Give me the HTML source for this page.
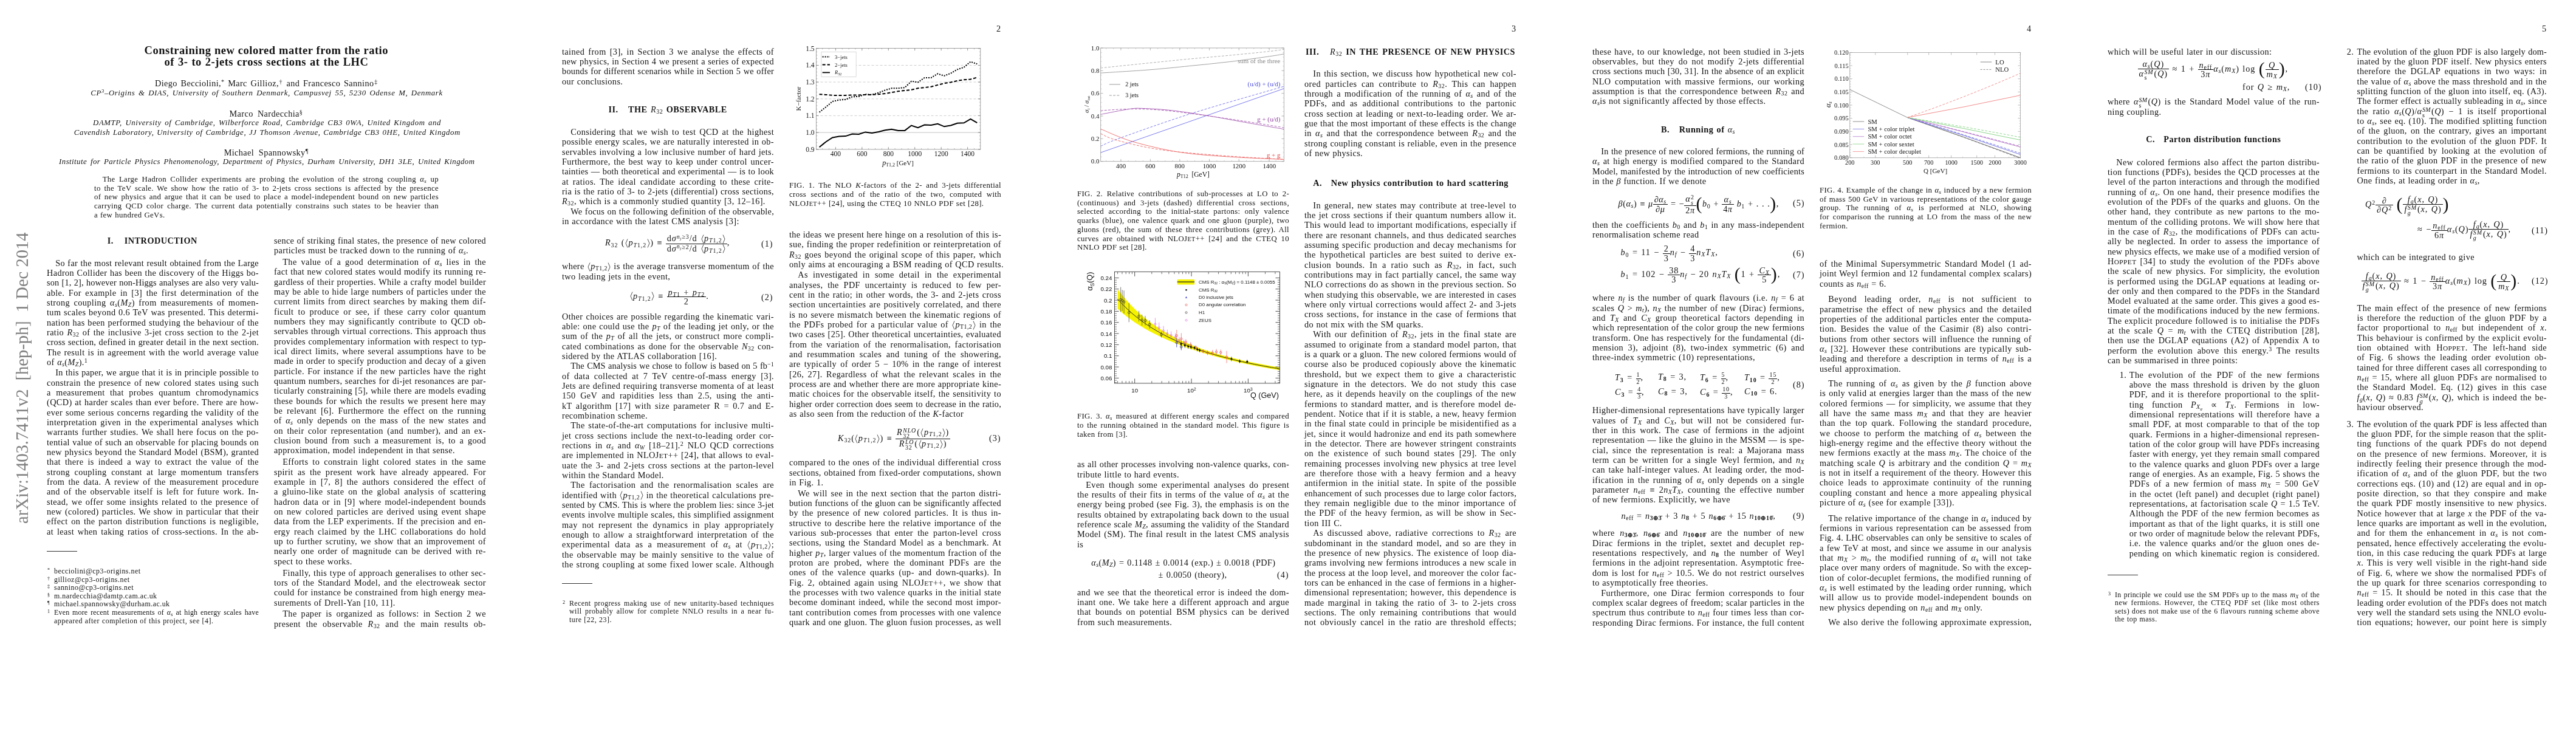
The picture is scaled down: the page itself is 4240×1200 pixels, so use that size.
<!DOCTYPE html>
<html><head><meta charset="utf-8"><style>
html,body{margin:0;padding:0;background:#fff;}
body{width:4240px;height:1200px;position:relative;overflow:hidden;font-family:"Liberation Serif",serif;color:#111;}
.page{position:absolute;top:0;width:848px;height:1200px;overflow:hidden;will-change:transform;}
.col{position:absolute;top:0;height:1200px;}
.b{--ls:0.4px;position:absolute;left:0;right:0;white-space:nowrap;font-size:14.25px;line-height:16.33px;letter-spacing:var(--ls);word-spacing:0.5px;text-align:left;}
.b.j{white-space:nowrap;text-align:justify;text-align-last:justify;}
.f{--ls:0.35px;position:absolute;left:0;right:0;white-space:nowrap;font-size:12.8px;line-height:14.75px;letter-spacing:var(--ls);word-spacing:0.4px;text-align:left;}
.f.j{white-space:nowrap;text-align:justify;text-align-last:justify;}
sub,sup{font-size:70%;line-height:0;}
sub{vertical-align:-0.25em;}
sup{vertical-align:0.45em;}
.sc{font-size:100%;}
.scs{font-size:80%;}
.abs{position:absolute;white-space:nowrap;}
.ctr{position:absolute;white-space:nowrap;text-align:center;}
.ttl{font-weight:bold;font-size:18.5px;line-height:19.2px;letter-spacing:0.55px;}
.au{font-size:14.25px;line-height:16px;letter-spacing:0.4px;word-spacing:1px;}
.af{font-size:12.8px;line-height:15.1px;font-style:italic;letter-spacing:0.68px;word-spacing:1px;}
.af i{font-style:italic;}
.sec{font-weight:bold;font-size:14.25px;letter-spacing:0.9px;line-height:16px;}
.stamp{font-size:28.5px;color:#808080;transform-origin:0 0;transform:translate(23px,862px) rotate(-90deg);line-height:28.5px;}
.fn{--ls:0.5px;position:absolute;left:0;right:0;white-space:nowrap;font-size:11.9px;line-height:13.6px;letter-spacing:var(--ls);word-spacing:0.4px;}
.fn.j{white-space:nowrap;text-align:justify;text-align-last:justify;}
.eq{font-size:14.25px;line-height:16px;letter-spacing:0.9px;word-spacing:1px;}
.fr{display:inline-block;vertical-align:middle;text-align:center;}
.fr>span{display:block;line-height:14.5px;padding:0 2px;}
.fr>span:first-child{border-bottom:0.7px solid #111;}
.seci{font-weight:bold;font-size:14.25px;letter-spacing:0.4px;line-height:16px;}
.pn{font-size:14.25px;line-height:16px;}
.ang{display:inline-block;vertical-align:-3.5px;margin:0 0.5px;}
.big{font-size:150%;vertical-align:-3px;line-height:10px;font-weight:100;}
.frs{display:inline-block;vertical-align:middle;text-align:center;font-size:10px;}
.frs>span{display:block;line-height:10.5px;padding:0 1px;}
.frs>span:first-child{border-bottom:0.6px solid #111;}
.ss{display:inline-block;vertical-align:-5px;font-size:70%;line-height:9px;text-align:left;margin:0 1px 0 0.5px;}
.ss>span{display:block;}
.big{font-size:210% !important;vertical-align:-5px !important;line-height:10px !important;}
.seci{letter-spacing:0.8px;}
.fm{position:absolute;left:-11px;top:0px;font-size:8px;line-height:10px;letter-spacing:0;}
.hj{white-space:nowrap !important;text-align:justify;text-align-last:justify;letter-spacing:0.2px;}
.af.hj{letter-spacing:0.6px;}
.ttl.hj{letter-spacing:0.5px;}
.au.hj{letter-spacing:0.4px;}

</style></head><body>
<div class="page" style="left:0px">
<div class="abs ttl hj" style="left:237.6px;width:401.4px;top:73.6px">Constraining new colored matter from the ratio</div>
<div class="abs ttl hj" style="left:270.5px;width:335.8px;top:92.8px">of 3- to 2-jets cross sections at the LHC</div>
<div class="abs au hj" style="left:255px;width:366.7px;top:129.4px">Diego Becciolini,<sup>*</sup> Marc Gillioz,<sup>†</sup> and Francesco Sannino<sup>‡</sup></div>
<div class="abs af hj" style="left:149.3px;width:579.4px;top:146px"><i>CP</i><sup>3</sup>–Origins &amp; DIAS, University of Southern Denmark, Campusvej 55, 5230 Odense M, Denmark</div>
<div class="abs au hj" style="left:377.5px;width:120.7px;top:178.7px">Marco Nardecchia<sup>§</sup></div>
<div class="abs af hj" style="left:153.1px;width:572.9px;top:195.4px">DAMTP, University of Cambridge, Wilberforce Road, Cambridge CB3 0WA, United Kingdom and</div>
<div class="abs af hj" style="left:121.8px;width:636px;top:210.5px">Cavendish Laboratory, University of Cambridge, JJ Thomson Avenue, Cambridge CB3 0HE, United Kingdom</div>
<div class="abs au hj" style="left:368.7px;width:138.9px;top:243.1px">Michael Spannowsky<sup>¶</sup></div>
<div class="abs af hj" style="left:97.1px;width:684.3px;top:258.9px;letter-spacing:0.45px">Institute for Particle Physics Phenomenology, Department of Physics, Durham University, DH1 3LE, United Kingdom</div>
<div class="abs sec hj" style="left:176.7px;width:148.1px;top:388.1px;letter-spacing:0.5px">I.&nbsp;&nbsp;&nbsp;INTRODUCTION</div>
<div class="abs stamp" style="left:0;top:0">arXiv:1403.7411v2&nbsp;&nbsp;[hep-ph]&nbsp;&nbsp;1 Dec 2014</div>
<div class="abs" style="left:77px;top:907px;width:50px;border-top:0.8px solid #333"></div>
<div class="col" style="left:155px;width:567px"><div class="f j" style="top:287.7px;text-indent:13.7px">The Large Hadron Collider experiments are probing the evolution of the strong coupling <i>α<sub>s</sub></i> up</div><div class="f j" style="top:302.5px">to the TeV scale. We show how the ratio of 3- to 2-jets cross sections is affected by the presence</div><div class="f j" style="top:317.2px">of new physics and argue that it can be used to place a model-independent bound on new particles</div><div class="f j" style="top:332.0px">carrying QCD color charge. The current data potentially constrains such states to be heavier than</div><div class="f" style="top:346.7px">a few hundred GeVs.</div></div><div class="col" style="left:77px;width:349px"><div class="b j" style="top:424.5px;text-indent:14.25px;letter-spacing:calc(var(--ls) + -0.1px)">So far the most relevant result obtained from the Large</div><div class="b j" style="top:440.8px;letter-spacing:calc(var(--ls) + -0.019px)">Hadron Collider has been the discovery of the Higgs bo-</div><div class="b j" style="top:457.2px;letter-spacing:calc(var(--ls) + -0.256px)">son [1, 2], however non-Higgs analyses are also very valu-</div><div class="b j" style="top:473.5px">able.  For example in [3] the first determination of the</div><div class="b j" style="top:489.8px">strong coupling <i>α<sub>s</sub></i>(<i>M<sub>Z</sub></i>) from measurements of momen-</div><div class="b j" style="top:506.1px">tum scales beyond 0.6 TeV was presented. This determi-</div><div class="b j" style="top:522.5px">nation has been performed studying the behaviour of the</div><div class="b j" style="top:538.8px">ratio <i>R</i><sub>32</sub> of the inclusive 3-jet cross section to the 2-jet</div><div class="b j" style="top:555.1px;letter-spacing:calc(var(--ls) + -0.134px)">cross section, defined in greater detail in the next section.</div><div class="b j" style="top:571.5px">The result is in agreement with the world average value</div><div class="b" style="top:587.8px">of <i>α<sub>s</sub></i>(<i>M<sub>Z</sub></i>).<sup>1</sup></div><div class="b j" style="top:605.2px;text-indent:14.25px;letter-spacing:calc(var(--ls) + -0.135px)">In this paper, we argue that it is in principle possible to</div><div class="b j" style="top:621.6px">constrain the presence of new colored states using such</div><div class="b j" style="top:637.9px">a measurement that probes quantum chromodynamics</div><div class="b j" style="top:654.2px">(QCD) at harder scales than ever before. There are how-</div><div class="b j" style="top:670.6px">ever some serious concerns regarding the validity of the</div><div class="b j" style="top:686.9px">interpretation given in the experimental analyses which</div><div class="b j" style="top:703.2px">warrants further studies. We shall here focus on the po-</div><div class="b j" style="top:719.5px;letter-spacing:calc(var(--ls) + -0.087px)">tential value of such an observable for placing bounds on</div><div class="b j" style="top:735.9px;letter-spacing:calc(var(--ls) + -0.016px)">new physics beyond the Standard Model (BSM), granted</div><div class="b j" style="top:752.2px">that there is indeed a way to extract the value of the</div><div class="b j" style="top:768.5px">strong coupling constant at large momentum transfers</div><div class="b j" style="top:784.9px">from the data. A review of the measurement procedure</div><div class="b j" style="top:801.2px">and of the observable itself is left for future work. In-</div><div class="b j" style="top:817.5px">stead, we offer some insights related to the presence of</div><div class="b j" style="top:833.9px">new (colored) particles. We show in particular that their</div><div class="b j" style="top:850.2px">effect on the parton distribution functions is negligible,</div><div class="b j" style="top:866.5px">at least when taking ratios of cross-sections. In the ab-</div></div><div class="col" style="left:451px;width:349px"><div class="b j" style="top:387.8px;letter-spacing:calc(var(--ls) + -0.104px)">sence of striking final states, the presence of new colored</div><div class="b" style="top:404.1px">particles must be tracked down to the running of <i>α<sub>s</sub></i>.</div><div class="b j" style="top:423.1px;text-indent:14.25px">The value of a good determination of <i>α<sub>s</sub></i> lies in the</div><div class="b j" style="top:439.4px;letter-spacing:calc(var(--ls) + -0.046px)">fact that new colored states would modify its running re-</div><div class="b j" style="top:455.7px;letter-spacing:calc(var(--ls) + -0.052px)">gardless of their properties. While a crafty model builder</div><div class="b j" style="top:472.0px">may be able to hide large numbers of particles under the</div><div class="b j" style="top:488.4px">current limits from direct searches by making them dif-</div><div class="b j" style="top:504.7px">ficult to produce or see, if these carry color quantum</div><div class="b j" style="top:521.0px">numbers they may significantly contribute to QCD ob-</div><div class="b j" style="top:537.4px;letter-spacing:calc(var(--ls) + -0.029px)">servables through virtual corrections. This approach thus</div><div class="b j" style="top:553.7px;letter-spacing:calc(var(--ls) + -0.056px)">provides complementary information with respect to typ-</div><div class="b j" style="top:570.0px">ical direct limits, where several assumptions have to be</div><div class="b j" style="top:586.4px;letter-spacing:calc(var(--ls) + -0.083px)">made in order to specify production and decay of a given</div><div class="b j" style="top:602.7px">particle. For instance if the new particles have the right</div><div class="b j" style="top:619.0px;letter-spacing:calc(var(--ls) + -0.051px)">quantum numbers, searches for di-jet resonances are par-</div><div class="b j" style="top:635.4px;letter-spacing:calc(var(--ls) + -0.096px)">ticularly constraining [5], while there are models evading</div><div class="b j" style="top:651.7px">these bounds for which the results we present here may</div><div class="b j" style="top:668.0px">be relevant [6]. Furthermore the effect on the running</div><div class="b j" style="top:684.3px">of <i>α<sub>s</sub></i> only depends on the mass of the new states and</div><div class="b j" style="top:700.7px">on their color representation (and number), and an ex-</div><div class="b j" style="top:717.0px">clusion bound from such a measurement is, to a good</div><div class="b" style="top:733.3px">approximation, model independent in that sense.</div><div class="b j" style="top:752.3px;text-indent:14.25px">Efforts to constrain light colored states in the same</div><div class="b j" style="top:768.6px">spirit as the present work have already appeared. For</div><div class="b j" style="top:784.9px">example in [7, 8] the authors considered the effect of</div><div class="b j" style="top:801.3px">a gluino-like state on the global analysis of scattering</div><div class="b j" style="top:817.6px">hadron data or in [9] where model-independent bounds</div><div class="b j" style="top:833.9px">on new colored particles are derived using event shape</div><div class="b j" style="top:850.2px">data from the LEP experiments. If the precision and en-</div><div class="b j" style="top:866.6px">ergy reach claimed by the LHC collaborations do hold</div><div class="b j" style="top:882.9px">up to further scrutiny, we show that an improvement of</div><div class="b j" style="top:899.2px">nearly one order of magnitude can be derived with re-</div><div class="b" style="top:915.6px">spect to these works.</div><div class="b j" style="top:934.5px;text-indent:14.25px">Finally, this type of approach generalises to other sec-</div><div class="b j" style="top:950.8px">tors of the Standard Model, and the electroweak sector</div><div class="b j" style="top:967.2px;letter-spacing:calc(var(--ls) + -0.011px)">could for instance be constrained from high energy mea-</div><div class="b" style="top:983.5px">surements of Drell-Yan [10, 11].</div><div class="b j" style="top:1002.4px;text-indent:14.25px">The paper is organized as follows: in Section 2 we</div><div class="b j" style="top:1018.7px">present the observable <i>R</i><sub>32</sub> and the main results ob-</div></div><div class="col" style="left:89px;width:337px"><div class="fn" style="top:934.0px"><span class="fm">*</span>becciolini@cp3-origins.net</div><div class="fn" style="top:947.6px"><span class="fm">†</span>gillioz@cp3-origins.net</div><div class="fn" style="top:961.2px"><span class="fm">‡</span>sannino@cp3-origins.net</div><div class="fn" style="top:974.8px"><span class="fm">§</span>m.nardecchia@damtp.cam.ac.uk</div><div class="fn" style="top:988.4px"><span class="fm">¶</span>michael.spannowsky@durham.ac.uk</div><div class="fn j" style="top:1002.0px;letter-spacing:calc(var(--ls) + -0.283px)"><span class="fm">1</span>Even more recent measurements of <i>α<sub>s</sub></i> at high energy scales have</div><div class="fn" style="top:1015.6px">appeared after completion of this project, see [4].</div></div></div><div class="page" style="left:848px">
<div class="abs eq" style="left:148px;top:385.2px">
<i>R</i><sub>32</sub> (<svg class="ang" width="5" height="15" viewBox="0 0 5 15"><path d="M4,0.5 L1,7.5 L4,14.5" fill="none" stroke="#222" stroke-width="0.8"/></svg><i>p</i><sub><i>T</i>1,2</sub><svg class="ang" width="5" height="15" viewBox="0 0 5 15"><path d="M1,0.5 L4,7.5 L1,14.5" fill="none" stroke="#222" stroke-width="0.8"/></svg>) ≡ <span class="fr"><span>d<i>σ</i><sup><i>n<sub>j</sub></i>≥3</sup>/d <svg class="ang" width="5" height="15" viewBox="0 0 5 15"><path d="M4,0.5 L1,7.5 L4,14.5" fill="none" stroke="#222" stroke-width="0.8"/></svg><i>p</i><sub><i>T</i>1,2</sub><svg class="ang" width="5" height="15" viewBox="0 0 5 15"><path d="M1,0.5 L4,7.5 L1,14.5" fill="none" stroke="#222" stroke-width="0.8"/></svg></span><span>d<i>σ</i><sup><i>n<sub>j</sub></i>≥2</sup>/d <svg class="ang" width="5" height="15" viewBox="0 0 5 15"><path d="M4,0.5 L1,7.5 L4,14.5" fill="none" stroke="#222" stroke-width="0.8"/></svg><i>p</i><sub><i>T</i>1,2</sub><svg class="ang" width="5" height="15" viewBox="0 0 5 15"><path d="M1,0.5 L4,7.5 L1,14.5" fill="none" stroke="#222" stroke-width="0.8"/></svg></span></span>,</div>
<div class="abs eq" style="left:405px;top:393.3px">(1)</div>
<div class="abs eq" style="left:188px;top:473.6px"><svg class="ang" width="5" height="15" viewBox="0 0 5 15"><path d="M4,0.5 L1,7.5 L4,14.5" fill="none" stroke="#222" stroke-width="0.8"/></svg><i>p</i><sub><i>T</i>1,2</sub><svg class="ang" width="5" height="15" viewBox="0 0 5 15"><path d="M1,0.5 L4,7.5 L1,14.5" fill="none" stroke="#222" stroke-width="0.8"/></svg> ≡ <span class="fr"><span><i>p</i><sub><i>T</i>1</sub> + <i>p</i><sub><i>T</i>2</sub></span><span>2</span></span>.</div>
<div class="abs eq" style="left:405px;top:480.7px">(2)</div>
<div class="abs seci hj" style="left:153.5px;width:195.3px;top:171.7px;letter-spacing:0.5px">II.&nbsp;&nbsp;&nbsp;THE <span style="font-weight:normal"><i>R</i><sub>32</sub></span> OBSERVABLE</div>
<div class="abs" style="left:77px;top:960px;width:50px;border-top:0.8px solid #333"></div>
<div class="abs pn" style="left:792px;top:39px">2</div>
<div class="abs eq" style="left:531px;top:704.4px"><i>K</i><sub>32</sub>(<svg class="ang" width="5" height="15" viewBox="0 0 5 15"><path d="M4,0.5 L1,7.5 L4,14.5" fill="none" stroke="#222" stroke-width="0.8"/></svg><i>p</i><sub><i>T</i>1,2</sub><svg class="ang" width="5" height="15" viewBox="0 0 5 15"><path d="M1,0.5 L4,7.5 L1,14.5" fill="none" stroke="#222" stroke-width="0.8"/></svg>) ≡ <span class="fr"><span><i>R</i><span class="ss"><span><i>NLO</i></span><span>32</span></span>(<svg class="ang" width="5" height="15" viewBox="0 0 5 15"><path d="M4,0.5 L1,7.5 L4,14.5" fill="none" stroke="#222" stroke-width="0.8"/></svg><i>p</i><sub><i>T</i>1,2</sub><svg class="ang" width="5" height="15" viewBox="0 0 5 15"><path d="M1,0.5 L4,7.5 L1,14.5" fill="none" stroke="#222" stroke-width="0.8"/></svg>)</span><span><i>R</i><span class="ss"><span><i>LO</i></span><span>32</span></span>(<svg class="ang" width="5" height="15" viewBox="0 0 5 15"><path d="M4,0.5 L1,7.5 L4,14.5" fill="none" stroke="#222" stroke-width="0.8"/></svg><i>p</i><sub><i>T</i>1,2</sub><svg class="ang" width="5" height="15" viewBox="0 0 5 15"><path d="M1,0.5 L4,7.5 L1,14.5" fill="none" stroke="#222" stroke-width="0.8"/></svg>)</span></span></div>
<div class="abs eq" style="left:780px;top:712.5px">(3)</div>
<div class="col" style="left:77px;width:349px"><div class="b j" style="top:76.5px">tained from [3], in Section 3 we analyse the effects of</div><div class="b j" style="top:92.8px;letter-spacing:calc(var(--ls) + -0.096px)">new physics, in Section 4 we present a series of expected</div><div class="b j" style="top:109.2px;letter-spacing:calc(var(--ls) + -0.138px)">bounds for different scenarios while in Section 5 we offer</div><div class="b" style="top:125.5px">our conclusions.</div><div class="b j" style="top:208.9px;text-indent:14.25px">Considering that we wish to test QCD at the highest</div><div class="b j" style="top:225.2px;letter-spacing:calc(var(--ls) + -0.011px)">possible energy scales, we are naturally interested in ob-</div><div class="b j" style="top:241.6px">servables involving a low inclusive number of hard jets.</div><div class="b j" style="top:257.9px">Furthermore, the best way to keep under control uncer-</div><div class="b j" style="top:274.2px;letter-spacing:calc(var(--ls) + -0.129px)">tainties — both theoretical and experimental — is to look</div><div class="b j" style="top:290.5px">at ratios. The ideal candidate according to these crite-</div><div class="b j" style="top:306.9px;letter-spacing:calc(var(--ls) + -0.058px)">ria is the ratio of 3- to 2-jets (differential) cross sections,</div><div class="b" style="top:323.2px"><i>R</i><sub>32</sub>, which is a commonly studied quantity [3, 12–16].</div><div class="b j" style="top:339.5px;text-indent:14.25px;letter-spacing:calc(var(--ls) + -0.133px)">We focus on the following definition of the observable,</div><div class="b" style="top:355.9px">in accordance with the latest CMS analysis [3]:</div><div class="b j" style="top:430.2px;letter-spacing:calc(var(--ls) + -0.026px)">where <svg class="ang" width="5" height="15" viewBox="0 0 5 15"><path d="M4,0.5 L1,7.5 L4,14.5" fill="none" stroke="#222" stroke-width="0.8"/></svg><i>p</i><sub>T1,2</sub><svg class="ang" width="5" height="15" viewBox="0 0 5 15"><path d="M1,0.5 L4,7.5 L1,14.5" fill="none" stroke="#222" stroke-width="0.8"/></svg> is the average transverse momentum of the</div><div class="b" style="top:446.5px">two leading jets in the event,</div><div class="b j" style="top:512.6px">Other choices are possible regarding the kinematic vari-</div><div class="b j" style="top:528.9px">able: one could use the <i>p<sub>T</sub></i> of the leading jet only, or the</div><div class="b j" style="top:545.3px">sum of the <i>p<sub>T</sub></i> of all the jets, or construct more compli-</div><div class="b j" style="top:561.6px">cated combinations as done for the observable <i>N</i><sub>32</sub> con-</div><div class="b" style="top:577.9px">sidered by the ATLAS collaboration [16].</div><div class="b j" style="top:594.3px;text-indent:14.25px;letter-spacing:calc(var(--ls) + -0.257px)">The CMS analysis we chose to follow is based on 5 fb<sup>−1</sup></div><div class="b j" style="top:610.6px">of data collected at 7 TeV centre-of-mass energy [3].</div><div class="b j" style="top:626.9px">Jets are defined requiring transverse momenta of at least</div><div class="b j" style="top:643.2px">150 GeV and rapidities less than 2.5, using the anti-</div><div class="b j" style="top:659.6px">kT algorithm [17] with size parameter R = 0.7 and E-</div><div class="b" style="top:675.9px">recombination scheme.</div><div class="b j" style="top:692.2px;text-indent:14.25px">The state-of-the-art computations for inclusive multi-</div><div class="b j" style="top:708.6px">jet cross sections include the next-to-leading order cor-</div><div class="b j" style="top:724.9px">rections in <i>α<sub>s</sub></i> and <i>α<sub>W</sub></i> [18–21].<sup>2</sup> NLO QCD corrections</div><div class="b j" style="top:741.2px">are implemented in NLO<span class="sc">J</span><span class="scs">ET</span>++ [24], that allows to eval-</div><div class="b j" style="top:757.6px">uate the 3- and 2-jets cross sections at the parton-level</div><div class="b" style="top:773.9px">within the Standard Model.</div><div class="b j" style="top:790.2px;text-indent:14.25px">The factorisation and the renormalisation scales are</div><div class="b j" style="top:806.5px;letter-spacing:calc(var(--ls) + -0.015px)">identified with <svg class="ang" width="5" height="15" viewBox="0 0 5 15"><path d="M4,0.5 L1,7.5 L4,14.5" fill="none" stroke="#222" stroke-width="0.8"/></svg><i>p</i><sub>T1,2</sub><svg class="ang" width="5" height="15" viewBox="0 0 5 15"><path d="M1,0.5 L4,7.5 L1,14.5" fill="none" stroke="#222" stroke-width="0.8"/></svg> in the theoretical calculations pre-</div><div class="b j" style="top:822.9px;letter-spacing:calc(var(--ls) + -0.234px)">sented by CMS. This is where the problem lies: since 3-jet</div><div class="b j" style="top:839.2px;letter-spacing:calc(var(--ls) + -0.109px)">events involve multiple scales, this simplified assignment</div><div class="b j" style="top:855.5px">may not represent the dynamics in play appropriately</div><div class="b j" style="top:871.9px">enough to allow a straightforward interpretation of the</div><div class="b j" style="top:888.2px">experimental data as a measurement of <i>α<sub>s</sub></i> at <svg class="ang" width="5" height="15" viewBox="0 0 5 15"><path d="M4,0.5 L1,7.5 L4,14.5" fill="none" stroke="#222" stroke-width="0.8"/></svg><i>p</i><sub>T1,2</sub><svg class="ang" width="5" height="15" viewBox="0 0 5 15"><path d="M1,0.5 L4,7.5 L1,14.5" fill="none" stroke="#222" stroke-width="0.8"/></svg>;</div><div class="b j" style="top:904.5px">the observable may be mainly sensitive to the value of</div><div class="b j" style="top:920.9px">the strong coupling at some fixed lower scale. Although</div></div><div class="col" style="left:89px;width:337px"><div class="fn j" style="top:987.0px;letter-spacing:calc(var(--ls) + -0.087px)"><span class="fm">2</span>Recent progress making use of new unitarity-based techniques</div><div class="fn j" style="top:1000.3px">will probably allow for complete NNLO results in a near fu-</div><div class="fn" style="top:1013.6px">ture [22, 23].</div></div><div class="col" style="left:451px;width:349px"><div class="b j" style="top:377.9px;letter-spacing:calc(var(--ls) + -0.088px)">the ideas we present here hinge on a resolution of this is-</div><div class="b j" style="top:394.2px">sue, finding the proper redefinition or reinterpretation of</div><div class="b j" style="top:410.6px"><i>R</i><sub>32</sub> goes beyond the original scope of this paper, which</div><div class="b" style="top:426.9px">only aims at encouraging a BSM reading of QCD results.</div><div class="b j" style="top:444.4px;text-indent:14.25px">As investigated in some detail in the experimental</div><div class="b j" style="top:460.7px">analyses, the PDF uncertainty is reduced to few per-</div><div class="b j" style="top:477.1px">cent in the ratio; in other words, the 3- and 2-jets cross</div><div class="b j" style="top:493.4px">section uncertainties are positively correlated, and there</div><div class="b j" style="top:509.7px">is no severe mismatch between the kinematic regions of</div><div class="b j" style="top:526.1px">the PDFs probed for a particular value of <svg class="ang" width="5" height="15" viewBox="0 0 5 15"><path d="M4,0.5 L1,7.5 L4,14.5" fill="none" stroke="#222" stroke-width="0.8"/></svg><i>p</i><sub>T1,2</sub><svg class="ang" width="5" height="15" viewBox="0 0 5 15"><path d="M1,0.5 L4,7.5 L1,14.5" fill="none" stroke="#222" stroke-width="0.8"/></svg> in the</div><div class="b j" style="top:542.4px;letter-spacing:calc(var(--ls) + -0.032px)">two cases [25]. Other theoretical uncertainties, evaluated</div><div class="b j" style="top:558.7px">from the variation of the renormalisation, factorisation</div><div class="b j" style="top:575.1px">and resummation scales and tuning of the showering,</div><div class="b j" style="top:591.4px">are typically of order 5 − 10% in the range of interest</div><div class="b j" style="top:607.7px">[26, 27]. Regardless of what the relevant scales in the</div><div class="b j" style="top:624.1px;letter-spacing:calc(var(--ls) + -0.051px)">process are and whether there are more appropriate kine-</div><div class="b j" style="top:640.4px">matic choices for the observable itself, the sensitivity to</div><div class="b j" style="top:656.7px;letter-spacing:calc(var(--ls) + -0.171px)">higher order correction does seem to decrease in the ratio,</div><div class="b" style="top:673.0px">as also seen from the reduction of the <i>K</i>-factor</div><div class="b j" style="top:753.3px">compared to the ones of the individual differential cross</div><div class="b j" style="top:769.6px;letter-spacing:calc(var(--ls) + -0.04px)">sections, obtained from fixed-order computations, shown</div><div class="b" style="top:786.0px">in Fig. 1.</div><div class="b j" style="top:803.5px;text-indent:14.25px">We will see in the next section that the parton distri-</div><div class="b j" style="top:819.8px;letter-spacing:calc(var(--ls) + -0.159px)">bution functions of the gluon can be significantly affected</div><div class="b j" style="top:836.2px">by the presence of new colored particles. It is thus in-</div><div class="b j" style="top:852.5px">structive to describe here the relative importance of the</div><div class="b j" style="top:868.8px">various sub-processes that enter the parton-level cross</div><div class="b j" style="top:885.1px">sections, using the Standard Model as a benchmark. At</div><div class="b j" style="top:901.5px;letter-spacing:calc(var(--ls) + -0.014px)">higher <i>p<sub>T</sub></i>, larger values of the momentum fraction of the</div><div class="b j" style="top:917.8px">proton are probed, where the dominant PDFs are the</div><div class="b j" style="top:934.1px">ones of the valence quarks (up- and down-quarks). In</div><div class="b j" style="top:950.5px">Fig. 2, obtained again using NLO<span class="sc">J</span><span class="scs">ET</span>++, we show that</div><div class="b j" style="top:966.8px">the processes with two valence quarks in the initial state</div><div class="b j" style="top:983.1px">become dominant indeed, while the second most impor-</div><div class="b j" style="top:999.5px;letter-spacing:calc(var(--ls) + -0.029px)">tant contribution comes from processes with one valence</div><div class="b j" style="top:1015.8px;letter-spacing:calc(var(--ls) + -0.092px)">quark and one gluon. The gluon fusion processes, as well</div></div><div class="col" style="left:451px;width:349px"><div class="f j" style="top:298.4px">FIG. 1. The NLO <i>K</i>-factors of the 2- and 3-jets differential</div><div class="f j" style="top:313.2px">cross sections and of the ratio of the two, computed with</div><div class="f" style="top:327.9px">NLO<span class="sc">J</span><span class="scs">ET</span>++ [24], using the CTEQ 10 NNLO PDF set [28].</div></div><svg class="abs" style="left:440px;top:60px" width="360" height="230" viewBox="0 0 360.00 230.00"><g font-family="Liberation Serif" fill="#111"><line x1="55.5" x2="325.79999999999995" y1="130.4" y2="130.4" stroke="#c8c8c8" stroke-width="0.9" stroke-dasharray="4,3"/><line x1="55.5" x2="325.79999999999995" y1="102.8" y2="102.8" stroke="#c8c8c8" stroke-width="0.9" stroke-dasharray="4,3"/><line x1="55.5" x2="325.79999999999995" y1="75.1" y2="75.1" stroke="#c8c8c8" stroke-width="0.9" stroke-dasharray="4,3"/><line x1="55.5" x2="325.79999999999995" y1="47.5" y2="47.5" stroke="#c8c8c8" stroke-width="0.9" stroke-dasharray="4,3"/><line x1="55.5" x2="325.79999999999995" y1="158.1" y2="158.1" stroke="#9a9a9a" stroke-width="0.6"/><rect x="55.5" y="19.400000000000006" width="270.3" height="166.5" fill="none" stroke="#8a8a8a" stroke-width="0.8"/><line x1="87.4" x2="87.4" y1="185.9" y2="181.9" stroke="#777" stroke-width="0.7"/><line x1="87.4" x2="87.4" y1="19.400000000000006" y2="23.400000000000006" stroke="#777" stroke-width="0.7"/><text x="87.4" y="197.0" font-size="11.5" text-anchor="middle">400</text><line x1="130.8" x2="130.8" y1="185.9" y2="181.9" stroke="#777" stroke-width="0.7"/><line x1="130.8" x2="130.8" y1="19.400000000000006" y2="23.400000000000006" stroke="#777" stroke-width="0.7"/><text x="130.8" y="197.0" font-size="11.5" text-anchor="middle">600</text><line x1="174.3" x2="174.3" y1="185.9" y2="181.9" stroke="#777" stroke-width="0.7"/><line x1="174.3" x2="174.3" y1="19.400000000000006" y2="23.400000000000006" stroke="#777" stroke-width="0.7"/><text x="174.3" y="197.0" font-size="11.5" text-anchor="middle">800</text><line x1="217.7" x2="217.7" y1="185.9" y2="181.9" stroke="#777" stroke-width="0.7"/><line x1="217.7" x2="217.7" y1="19.400000000000006" y2="23.400000000000006" stroke="#777" stroke-width="0.7"/><text x="217.7" y="197.0" font-size="11.5" text-anchor="middle">1000</text><line x1="261.2" x2="261.2" y1="185.9" y2="181.9" stroke="#777" stroke-width="0.7"/><line x1="261.2" x2="261.2" y1="19.400000000000006" y2="23.400000000000006" stroke="#777" stroke-width="0.7"/><text x="261.2" y="197.0" font-size="11.5" text-anchor="middle">1200</text><line x1="304.6" x2="304.6" y1="185.9" y2="181.9" stroke="#777" stroke-width="0.7"/><line x1="304.6" x2="304.6" y1="19.400000000000006" y2="23.400000000000006" stroke="#777" stroke-width="0.7"/><text x="304.6" y="197.0" font-size="11.5" text-anchor="middle">1400</text><line x1="65.7" x2="65.7" y1="185.9" y2="183.9" stroke="#888" stroke-width="0.6"/><line x1="65.7" x2="65.7" y1="19.400000000000006" y2="21.400000000000006" stroke="#888" stroke-width="0.6"/><line x1="76.5" x2="76.5" y1="185.9" y2="183.9" stroke="#888" stroke-width="0.6"/><line x1="76.5" x2="76.5" y1="19.400000000000006" y2="21.400000000000006" stroke="#888" stroke-width="0.6"/><line x1="87.4" x2="87.4" y1="185.9" y2="183.9" stroke="#888" stroke-width="0.6"/><line x1="87.4" x2="87.4" y1="19.400000000000006" y2="21.400000000000006" stroke="#888" stroke-width="0.6"/><line x1="98.3" x2="98.3" y1="185.9" y2="183.9" stroke="#888" stroke-width="0.6"/><line x1="98.3" x2="98.3" y1="19.400000000000006" y2="21.400000000000006" stroke="#888" stroke-width="0.6"/><line x1="109.1" x2="109.1" y1="185.9" y2="183.9" stroke="#888" stroke-width="0.6"/><line x1="109.1" x2="109.1" y1="19.400000000000006" y2="21.400000000000006" stroke="#888" stroke-width="0.6"/><line x1="120.0" x2="120.0" y1="185.9" y2="183.9" stroke="#888" stroke-width="0.6"/><line x1="120.0" x2="120.0" y1="19.400000000000006" y2="21.400000000000006" stroke="#888" stroke-width="0.6"/><line x1="130.8" x2="130.8" y1="185.9" y2="183.9" stroke="#888" stroke-width="0.6"/><line x1="130.8" x2="130.8" y1="19.400000000000006" y2="21.400000000000006" stroke="#888" stroke-width="0.6"/><line x1="141.7" x2="141.7" y1="185.9" y2="183.9" stroke="#888" stroke-width="0.6"/><line x1="141.7" x2="141.7" y1="19.400000000000006" y2="21.400000000000006" stroke="#888" stroke-width="0.6"/><line x1="152.6" x2="152.6" y1="185.9" y2="183.9" stroke="#888" stroke-width="0.6"/><line x1="152.6" x2="152.6" y1="19.400000000000006" y2="21.400000000000006" stroke="#888" stroke-width="0.6"/><line x1="163.4" x2="163.4" y1="185.9" y2="183.9" stroke="#888" stroke-width="0.6"/><line x1="163.4" x2="163.4" y1="19.400000000000006" y2="21.400000000000006" stroke="#888" stroke-width="0.6"/><line x1="174.3" x2="174.3" y1="185.9" y2="183.9" stroke="#888" stroke-width="0.6"/><line x1="174.3" x2="174.3" y1="19.400000000000006" y2="21.400000000000006" stroke="#888" stroke-width="0.6"/><line x1="185.1" x2="185.1" y1="185.9" y2="183.9" stroke="#888" stroke-width="0.6"/><line x1="185.1" x2="185.1" y1="19.400000000000006" y2="21.400000000000006" stroke="#888" stroke-width="0.6"/><line x1="196.0" x2="196.0" y1="185.9" y2="183.9" stroke="#888" stroke-width="0.6"/><line x1="196.0" x2="196.0" y1="19.400000000000006" y2="21.400000000000006" stroke="#888" stroke-width="0.6"/><line x1="206.9" x2="206.9" y1="185.9" y2="183.9" stroke="#888" stroke-width="0.6"/><line x1="206.9" x2="206.9" y1="19.400000000000006" y2="21.400000000000006" stroke="#888" stroke-width="0.6"/><line x1="217.7" x2="217.7" y1="185.9" y2="183.9" stroke="#888" stroke-width="0.6"/><line x1="217.7" x2="217.7" y1="19.400000000000006" y2="21.400000000000006" stroke="#888" stroke-width="0.6"/><line x1="228.6" x2="228.6" y1="185.9" y2="183.9" stroke="#888" stroke-width="0.6"/><line x1="228.6" x2="228.6" y1="19.400000000000006" y2="21.400000000000006" stroke="#888" stroke-width="0.6"/><line x1="239.4" x2="239.4" y1="185.9" y2="183.9" stroke="#888" stroke-width="0.6"/><line x1="239.4" x2="239.4" y1="19.400000000000006" y2="21.400000000000006" stroke="#888" stroke-width="0.6"/><line x1="250.3" x2="250.3" y1="185.9" y2="183.9" stroke="#888" stroke-width="0.6"/><line x1="250.3" x2="250.3" y1="19.400000000000006" y2="21.400000000000006" stroke="#888" stroke-width="0.6"/><line x1="261.2" x2="261.2" y1="185.9" y2="183.9" stroke="#888" stroke-width="0.6"/><line x1="261.2" x2="261.2" y1="19.400000000000006" y2="21.400000000000006" stroke="#888" stroke-width="0.6"/><line x1="272.0" x2="272.0" y1="185.9" y2="183.9" stroke="#888" stroke-width="0.6"/><line x1="272.0" x2="272.0" y1="19.400000000000006" y2="21.400000000000006" stroke="#888" stroke-width="0.6"/><line x1="282.9" x2="282.9" y1="185.9" y2="183.9" stroke="#888" stroke-width="0.6"/><line x1="282.9" x2="282.9" y1="19.400000000000006" y2="21.400000000000006" stroke="#888" stroke-width="0.6"/><line x1="293.7" x2="293.7" y1="185.9" y2="183.9" stroke="#888" stroke-width="0.6"/><line x1="293.7" x2="293.7" y1="19.400000000000006" y2="21.400000000000006" stroke="#888" stroke-width="0.6"/><line x1="304.6" x2="304.6" y1="185.9" y2="183.9" stroke="#888" stroke-width="0.6"/><line x1="304.6" x2="304.6" y1="19.400000000000006" y2="21.400000000000006" stroke="#888" stroke-width="0.6"/><line x1="315.5" x2="315.5" y1="185.9" y2="183.9" stroke="#888" stroke-width="0.6"/><line x1="315.5" x2="315.5" y1="19.400000000000006" y2="21.400000000000006" stroke="#888" stroke-width="0.6"/><text x="52.5" y="189.7" font-size="11.5" text-anchor="end">0.9</text><line x1="55.5" x2="59.5" y1="185.8" y2="185.8" stroke="#777" stroke-width="0.7"/><line x1="325.79999999999995" x2="321.79999999999995" y1="185.8" y2="185.8" stroke="#777" stroke-width="0.7"/><text x="52.5" y="162.0" font-size="11.5" text-anchor="end">1.0</text><line x1="55.5" x2="59.5" y1="158.1" y2="158.1" stroke="#777" stroke-width="0.7"/><line x1="325.79999999999995" x2="321.79999999999995" y1="158.1" y2="158.1" stroke="#777" stroke-width="0.7"/><text x="52.5" y="134.3" font-size="11.5" text-anchor="end">1.1</text><line x1="55.5" x2="59.5" y1="130.4" y2="130.4" stroke="#777" stroke-width="0.7"/><line x1="325.79999999999995" x2="321.79999999999995" y1="130.4" y2="130.4" stroke="#777" stroke-width="0.7"/><text x="52.5" y="106.7" font-size="11.5" text-anchor="end">1.2</text><line x1="55.5" x2="59.5" y1="102.8" y2="102.8" stroke="#777" stroke-width="0.7"/><line x1="325.79999999999995" x2="321.79999999999995" y1="102.8" y2="102.8" stroke="#777" stroke-width="0.7"/><text x="52.5" y="79.0" font-size="11.5" text-anchor="end">1.3</text><line x1="55.5" x2="59.5" y1="75.1" y2="75.1" stroke="#777" stroke-width="0.7"/><line x1="325.79999999999995" x2="321.79999999999995" y1="75.1" y2="75.1" stroke="#777" stroke-width="0.7"/><text x="52.5" y="51.4" font-size="11.5" text-anchor="end">1.4</text><line x1="55.5" x2="59.5" y1="47.5" y2="47.5" stroke="#777" stroke-width="0.7"/><line x1="325.79999999999995" x2="321.79999999999995" y1="47.5" y2="47.5" stroke="#777" stroke-width="0.7"/><text x="52.5" y="23.7" font-size="11.5" text-anchor="end">1.5</text><line x1="55.5" x2="59.5" y1="19.8" y2="19.8" stroke="#777" stroke-width="0.7"/><line x1="325.79999999999995" x2="321.79999999999995" y1="19.8" y2="19.8" stroke="#777" stroke-width="0.7"/><line x1="55.5" x2="57.5" y1="185.8" y2="185.8" stroke="#888" stroke-width="0.5"/><line x1="325.79999999999995" x2="323.79999999999995" y1="185.8" y2="185.8" stroke="#888" stroke-width="0.5"/><line x1="55.5" x2="57.5" y1="180.2" y2="180.2" stroke="#888" stroke-width="0.5"/><line x1="325.79999999999995" x2="323.79999999999995" y1="180.2" y2="180.2" stroke="#888" stroke-width="0.5"/><line x1="55.5" x2="57.5" y1="174.7" y2="174.7" stroke="#888" stroke-width="0.5"/><line x1="325.79999999999995" x2="323.79999999999995" y1="174.7" y2="174.7" stroke="#888" stroke-width="0.5"/><line x1="55.5" x2="57.5" y1="169.2" y2="169.2" stroke="#888" stroke-width="0.5"/><line x1="325.79999999999995" x2="323.79999999999995" y1="169.2" y2="169.2" stroke="#888" stroke-width="0.5"/><line x1="55.5" x2="57.5" y1="163.6" y2="163.6" stroke="#888" stroke-width="0.5"/><line x1="325.79999999999995" x2="323.79999999999995" y1="163.6" y2="163.6" stroke="#888" stroke-width="0.5"/><line x1="55.5" x2="57.5" y1="158.1" y2="158.1" stroke="#888" stroke-width="0.5"/><line x1="325.79999999999995" x2="323.79999999999995" y1="158.1" y2="158.1" stroke="#888" stroke-width="0.5"/><line x1="55.5" x2="57.5" y1="152.6" y2="152.6" stroke="#888" stroke-width="0.5"/><line x1="325.79999999999995" x2="323.79999999999995" y1="152.6" y2="152.6" stroke="#888" stroke-width="0.5"/><line x1="55.5" x2="57.5" y1="147.0" y2="147.0" stroke="#888" stroke-width="0.5"/><line x1="325.79999999999995" x2="323.79999999999995" y1="147.0" y2="147.0" stroke="#888" stroke-width="0.5"/><line x1="55.5" x2="57.5" y1="141.5" y2="141.5" stroke="#888" stroke-width="0.5"/><line x1="325.79999999999995" x2="323.79999999999995" y1="141.5" y2="141.5" stroke="#888" stroke-width="0.5"/><line x1="55.5" x2="57.5" y1="136.0" y2="136.0" stroke="#888" stroke-width="0.5"/><line x1="325.79999999999995" x2="323.79999999999995" y1="136.0" y2="136.0" stroke="#888" stroke-width="0.5"/><line x1="55.5" x2="57.5" y1="130.4" y2="130.4" stroke="#888" stroke-width="0.5"/><line x1="325.79999999999995" x2="323.79999999999995" y1="130.4" y2="130.4" stroke="#888" stroke-width="0.5"/><line x1="55.5" x2="57.5" y1="124.9" y2="124.9" stroke="#888" stroke-width="0.5"/><line x1="325.79999999999995" x2="323.79999999999995" y1="124.9" y2="124.9" stroke="#888" stroke-width="0.5"/><line x1="55.5" x2="57.5" y1="119.4" y2="119.4" stroke="#888" stroke-width="0.5"/><line x1="325.79999999999995" x2="323.79999999999995" y1="119.4" y2="119.4" stroke="#888" stroke-width="0.5"/><line x1="55.5" x2="57.5" y1="113.9" y2="113.9" stroke="#888" stroke-width="0.5"/><line x1="325.79999999999995" x2="323.79999999999995" y1="113.9" y2="113.9" stroke="#888" stroke-width="0.5"/><line x1="55.5" x2="57.5" y1="108.3" y2="108.3" stroke="#888" stroke-width="0.5"/><line x1="325.79999999999995" x2="323.79999999999995" y1="108.3" y2="108.3" stroke="#888" stroke-width="0.5"/><line x1="55.5" x2="57.5" y1="102.8" y2="102.8" stroke="#888" stroke-width="0.5"/><line x1="325.79999999999995" x2="323.79999999999995" y1="102.8" y2="102.8" stroke="#888" stroke-width="0.5"/><line x1="55.5" x2="57.5" y1="97.3" y2="97.3" stroke="#888" stroke-width="0.5"/><line x1="325.79999999999995" x2="323.79999999999995" y1="97.3" y2="97.3" stroke="#888" stroke-width="0.5"/><line x1="55.5" x2="57.5" y1="91.7" y2="91.7" stroke="#888" stroke-width="0.5"/><line x1="325.79999999999995" x2="323.79999999999995" y1="91.7" y2="91.7" stroke="#888" stroke-width="0.5"/><line x1="55.5" x2="57.5" y1="86.2" y2="86.2" stroke="#888" stroke-width="0.5"/><line x1="325.79999999999995" x2="323.79999999999995" y1="86.2" y2="86.2" stroke="#888" stroke-width="0.5"/><line x1="55.5" x2="57.5" y1="80.7" y2="80.7" stroke="#888" stroke-width="0.5"/><line x1="325.79999999999995" x2="323.79999999999995" y1="80.7" y2="80.7" stroke="#888" stroke-width="0.5"/><line x1="55.5" x2="57.5" y1="75.1" y2="75.1" stroke="#888" stroke-width="0.5"/><line x1="325.79999999999995" x2="323.79999999999995" y1="75.1" y2="75.1" stroke="#888" stroke-width="0.5"/><line x1="55.5" x2="57.5" y1="69.6" y2="69.6" stroke="#888" stroke-width="0.5"/><line x1="325.79999999999995" x2="323.79999999999995" y1="69.6" y2="69.6" stroke="#888" stroke-width="0.5"/><line x1="55.5" x2="57.5" y1="64.1" y2="64.1" stroke="#888" stroke-width="0.5"/><line x1="325.79999999999995" x2="323.79999999999995" y1="64.1" y2="64.1" stroke="#888" stroke-width="0.5"/><line x1="55.5" x2="57.5" y1="58.6" y2="58.6" stroke="#888" stroke-width="0.5"/><line x1="325.79999999999995" x2="323.79999999999995" y1="58.6" y2="58.6" stroke="#888" stroke-width="0.5"/><line x1="55.5" x2="57.5" y1="53.0" y2="53.0" stroke="#888" stroke-width="0.5"/><line x1="325.79999999999995" x2="323.79999999999995" y1="53.0" y2="53.0" stroke="#888" stroke-width="0.5"/><line x1="55.5" x2="57.5" y1="47.5" y2="47.5" stroke="#888" stroke-width="0.5"/><line x1="325.79999999999995" x2="323.79999999999995" y1="47.5" y2="47.5" stroke="#888" stroke-width="0.5"/><line x1="55.5" x2="57.5" y1="42.0" y2="42.0" stroke="#888" stroke-width="0.5"/><line x1="325.79999999999995" x2="323.79999999999995" y1="42.0" y2="42.0" stroke="#888" stroke-width="0.5"/><line x1="55.5" x2="57.5" y1="36.4" y2="36.4" stroke="#888" stroke-width="0.5"/><line x1="325.79999999999995" x2="323.79999999999995" y1="36.4" y2="36.4" stroke="#888" stroke-width="0.5"/><line x1="55.5" x2="57.5" y1="30.9" y2="30.9" stroke="#888" stroke-width="0.5"/><line x1="325.79999999999995" x2="323.79999999999995" y1="30.9" y2="30.9" stroke="#888" stroke-width="0.5"/><line x1="55.5" x2="57.5" y1="25.4" y2="25.4" stroke="#888" stroke-width="0.5"/><line x1="325.79999999999995" x2="323.79999999999995" y1="25.4" y2="25.4" stroke="#888" stroke-width="0.5"/><polyline points="60.6,182.3 71.4,173.5 82.2,166.5 93.1,164.6 103.9,164.1 114.7,160.6 125.5,160.9 136.3,157.4 147.2,158.9 158.0,156.9 168.8,154.2 179.6,152.7 190.4,155.0 201.3,154.9 212.1,146.5 222.9,150.2 233.7,145.6 244.5,146.0 255.4,143.8 266.2,148.3 277.0,146.5 287.8,142.8 298.6,142.3 309.5,135.9 320.3,142.1" fill="none" stroke="#000" stroke-width="2"/><polyline points="60.6,95.2 71.4,95.9 82.2,96.9 93.1,96.9 103.9,96.9 114.7,96.4 125.5,96.4 136.3,95.9 147.2,95.9 158.0,95.2 168.8,94.0 179.6,92.2 190.4,90.2 201.3,89.0 212.1,87.8 222.9,85.3 233.7,84.1 244.5,82.8 255.4,79.9 266.2,77.2 277.0,75.4 287.8,73.0 298.6,71.2 309.5,70.5 320.3,67.5" fill="none" stroke="#000" stroke-width="2" stroke-dasharray="5,3"/><polyline points="60.6,124.8 71.4,116.2 82.2,107.0 93.1,104.6 103.9,103.8 114.7,99.4 125.5,98.9 136.3,95.2 147.2,95.9 158.0,92.7 168.8,88.5 179.6,85.3 190.4,85.3 201.3,84.1 212.1,73.7 222.9,75.4 233.7,68.0 244.5,68.0 255.4,61.4 266.2,64.8 277.0,60.6 287.8,54.4 298.6,50.7 309.5,41.6 320.3,45.3" fill="none" stroke="#000" stroke-width="2" stroke-dasharray="2,2"/><rect x="63.9" y="25.3" width="57.2" height="41" fill="#fff" stroke="#c0c0c0" stroke-width="0.6"/><line x1="65.6" x2="78.0" y1="33.5" y2="33.5" stroke="#000" stroke-width="1.8" stroke-dasharray="2,2"/><text x="86.0" y="36.5" font-size="8.5">3−jets</text><line x1="65.6" x2="78.0" y1="46.5" y2="46.5" stroke="#000" stroke-width="1.8" stroke-dasharray="5,3"/><text x="86.0" y="49.5" font-size="8.5">2−jets</text><line x1="65.6" x2="78.0" y1="59.400000000000006" y2="59.400000000000006" stroke="#000" stroke-width="1.8"/><text x="86.0" y="62.4" font-size="8.5"><tspan font-style="italic">R</tspan><tspan font-size="6" dy="1.5">32</tspan></text><text transform="translate(29.5,102.6) rotate(-90)" font-size="11" text-anchor="middle">K−factor</text><text x="190.0" y="211.5" font-size="11" text-anchor="middle"><tspan font-style="italic" font-size="12">p</tspan><tspan font-size="8" dy="2">T1,2</tspan><tspan dy="-2">  [GeV]</tspan></text></g></svg></div><div class="page" style="left:1696px">
<div class="abs pn" style="left:792px;top:39px">3</div>
<div class="abs seci hj" style="left:453px;width:345px;top:76.7px;letter-spacing:0.5px">III.&nbsp;&nbsp;&nbsp;<span style="font-weight:normal"><i>R</i><sub>32</sub></span> IN THE PRESENCE OF NEW PHYSICS</div>
<div class="abs seci hj" style="left:465.3px;width:321.7px;top:292.9px;letter-spacing:0.5px">A.&nbsp;&nbsp;&nbsp;New physics contribution to hard scattering</div>
<div class="abs eq" style="left:100.3px;top:917.6px;letter-spacing:0.4px"><i>α<sub>s</sub></i>(<i>M<sub>Z</sub></i>) = 0.1148 ± 0.0014 (exp.) ± 0.0018 (PDF)</div>
<div class="abs eq" style="left:210.6px;top:937.9px;letter-spacing:0.4px">± 0.0050 (theory),</div>
<div class="abs eq" style="left:406px;top:937.9px">(4)</div>
<div class="abs" style="left:241px;top:279.8px;font-size:11.5px;line-height:14px"><i>p</i><sub style="font-size:8px">T12</sub>&nbsp;&nbsp;[GeV]</div>
<div class="col" style="left:77px;width:349px"><div class="f j" style="top:311.7px">FIG. 2. Relative contributions of sub-processes at LO to 2-</div><div class="f j" style="top:326.5px">(continuous) and 3-jets (dashed) differential cross sections,</div><div class="f j" style="top:341.2px">selected according to the initial-state partons: only valence</div><div class="f j" style="top:356.0px">quarks (blue), one valence quark and one gluon (purple), two</div><div class="f j" style="top:370.7px">gluons (red), the sum of these three contributions (grey). All</div><div class="f j" style="top:385.5px">curves are obtained with NLO<span class="sc">J</span><span class="scs">ET</span>++ [24] and the CTEQ 10</div><div class="f" style="top:400.2px">NNLO PDF set [28].</div></div><div class="col" style="left:77px;width:349px"><div class="f j" style="top:678.1px">FIG. 3. <i>α<sub>s</sub></i> measured at different energy scales and compared</div><div class="f j" style="top:692.9px">to the running obtained in the standard model. This figure is</div><div class="f" style="top:707.6px">taken from [3].</div></div><div class="col" style="left:77px;width:349px"><div class="b j" style="top:756.2px;letter-spacing:calc(var(--ls) + -0.077px)">as all other processes involving non-valence quarks, con-</div><div class="b" style="top:772.5px">tribute little to hard events.</div><div class="b j" style="top:789.8px;text-indent:14.25px">Even though some experimental analyses do present</div><div class="b j" style="top:806.1px">the results of their fits in terms of the value of <i>α<sub>s</sub></i> at the</div><div class="b j" style="top:822.4px">energy being probed (see Fig. 3), the emphasis is on the</div><div class="b j" style="top:838.8px">results obtained by extrapolating back down to the usual</div><div class="b j" style="top:855.1px;letter-spacing:calc(var(--ls) + -0.079px)">reference scale <i>M<sub>Z</sub></i>, assuming the validity of the Standard</div><div class="b j" style="top:871.4px">Model (SM). The final result in the latest CMS analysis</div><div class="b" style="top:887.7px">is</div><div class="b j" style="top:966.5px">and we see that the theoretical error is indeed the dom-</div><div class="b j" style="top:982.8px">inant one. We take here a different approach and argue</div><div class="b j" style="top:999.2px">that bounds on potential BSM physics can be derived</div><div class="b" style="top:1015.5px">from such measurements.</div></div><div class="col" style="left:451px;width:349px"><div class="b j" style="top:113.2px;text-indent:14.25px">In this section, we discuss how hypothetical new col-</div><div class="b j" style="top:129.5px">ored particles can contribute to <i>R</i><sub>32</sub>. This can happen</div><div class="b j" style="top:145.9px">through a modification of the running of <i>α<sub>s</sub></i> and of the</div><div class="b j" style="top:162.2px">PDFs, and as additional contributions to the partonic</div><div class="b j" style="top:178.5px">cross section at leading or next-to-leading order. We ar-</div><div class="b j" style="top:194.8px;letter-spacing:calc(var(--ls) + -0.077px)">gue that the most important of these effects is the change</div><div class="b j" style="top:211.2px">in <i>α<sub>s</sub></i> and that the correspondence between <i>R</i><sub>32</sub> and the</div><div class="b j" style="top:227.5px;letter-spacing:calc(var(--ls) + -0.03px)">strong coupling constant is reliable, even in the presence</div><div class="b" style="top:243.8px">of new physics.</div><div class="b j" style="top:329.6px;text-indent:14.25px">In general, new states may contribute at tree-level to</div><div class="b j" style="top:345.9px">the jet cross sections if their quantum numbers allow it.</div><div class="b j" style="top:362.3px;letter-spacing:calc(var(--ls) + -0.036px)">This would lead to important modifications, especially if</div><div class="b j" style="top:378.6px">there are resonant channels, and thus dedicated searches</div><div class="b j" style="top:394.9px">assuming specific production and decay mechanisms for</div><div class="b j" style="top:411.2px">the hypothetical particles are best suited to derive ex-</div><div class="b j" style="top:427.6px">clusion bounds. In a ratio such as <i>R</i><sub>32</sub>, in fact, such</div><div class="b j" style="top:443.9px">contributions may in fact partially cancel, the same way</div><div class="b j" style="top:460.2px;letter-spacing:calc(var(--ls) + -0.055px)">NLO corrections do as shown in the previous section. So</div><div class="b j" style="top:476.6px;letter-spacing:calc(var(--ls) + -0.065px)">when studying this observable, we are interested in cases</div><div class="b j" style="top:492.9px">where only virtual corrections would affect 2- and 3-jets</div><div class="b j" style="top:509.2px">cross sections, for instance in the case of fermions that</div><div class="b" style="top:525.6px">do not mix with the SM quarks.</div><div class="b j" style="top:542.3px;text-indent:14.25px">With our definition of <i>R</i><sub>32</sub>, jets in the final state are</div><div class="b j" style="top:558.6px">assumed to originate from a standard model parton, that</div><div class="b j" style="top:574.9px;letter-spacing:calc(var(--ls) + -0.145px)">is a quark or a gluon. The new colored fermions would of</div><div class="b j" style="top:591.3px">course also be produced copiously above the kinematic</div><div class="b j" style="top:607.6px">threshold, but we expect them to give a characteristic</div><div class="b j" style="top:623.9px">signature in the detectors. We do not study this case</div><div class="b j" style="top:640.3px">here, as it depends heavily on the couplings of the new</div><div class="b j" style="top:656.6px">fermions to standard matter, and is therefore model de-</div><div class="b j" style="top:672.9px">pendent. Notice that if it is stable, a new, heavy fermion</div><div class="b j" style="top:689.3px">in the final state could in principle be misidentified as a</div><div class="b j" style="top:705.6px;letter-spacing:calc(var(--ls) + -0.032px)">jet, since it would hadronize and end its path somewhere</div><div class="b j" style="top:721.9px">in the detector. There are however stringent constraints</div><div class="b j" style="top:738.3px">on the existence of such bound states [29]. The only</div><div class="b j" style="top:754.6px">remaining processes involving new physics at tree level</div><div class="b j" style="top:770.9px">are therefore those with a heavy fermion and a heavy</div><div class="b j" style="top:787.2px">antifermion in the initial state. In spite of the possible</div><div class="b j" style="top:803.6px;letter-spacing:calc(var(--ls) + -0.115px)">enhancement of such processes due to large color factors,</div><div class="b j" style="top:819.9px">they remain negligible due to the minor importance of</div><div class="b j" style="top:836.2px">the PDF of the heavy fermion, as will be show in Sec-</div><div class="b" style="top:852.6px">tion III C.</div><div class="b j" style="top:869.3px;text-indent:14.25px">As discussed above, radiative corrections to <i>R</i><sub>32</sub> are</div><div class="b j" style="top:885.6px">subdominant in the standard model, and so are they in</div><div class="b j" style="top:902.0px">the presence of new physics. The existence of loop dia-</div><div class="b j" style="top:918.3px">grams involving new fermions introduces a new scale in</div><div class="b j" style="top:934.6px;letter-spacing:calc(var(--ls) + -0.074px)">the process at the loop level, and moreover the color fac-</div><div class="b j" style="top:950.9px;letter-spacing:calc(var(--ls) + -0.03px)">tors can be enhanced in the case of fermions in a higher-</div><div class="b j" style="top:967.3px">dimensional representation; however, this dependence is</div><div class="b j" style="top:983.6px">made marginal in taking the ratio of 3- to 2-jets cross</div><div class="b j" style="top:999.9px">sections. The only remaining contributions that would</div><div class="b j" style="top:1016.3px">not obviously cancel in the ratio are threshold effects;</div></div><svg class="abs" style="left:64px;top:50px" width="380" height="240" viewBox="0 0 1153.98 728.83"><g font-family="Liberation Serif" fill="#111"><rect x="157" y="88" width="916" height="567" fill="none" stroke="#999" stroke-width="2.4"/><line x1="258" x2="258" y1="655" y2="643" stroke="#999" stroke-width="2"/><line x1="258" x2="258" y1="88" y2="100" stroke="#999" stroke-width="2"/><text x="258" y="688" font-size="33" text-anchor="middle">400</text><line x1="405" x2="405" y1="655" y2="643" stroke="#999" stroke-width="2"/><line x1="405" x2="405" y1="88" y2="100" stroke="#999" stroke-width="2"/><text x="405" y="688" font-size="33" text-anchor="middle">600</text><line x1="552" x2="552" y1="655" y2="643" stroke="#999" stroke-width="2"/><line x1="552" x2="552" y1="88" y2="100" stroke="#999" stroke-width="2"/><text x="552" y="688" font-size="33" text-anchor="middle">800</text><line x1="700" x2="700" y1="655" y2="643" stroke="#999" stroke-width="2"/><line x1="700" x2="700" y1="88" y2="100" stroke="#999" stroke-width="2"/><text x="700" y="688" font-size="33" text-anchor="middle">1000</text><line x1="848" x2="848" y1="655" y2="643" stroke="#999" stroke-width="2"/><line x1="848" x2="848" y1="88" y2="100" stroke="#999" stroke-width="2"/><text x="848" y="688" font-size="33" text-anchor="middle">1200</text><line x1="1000" x2="1000" y1="655" y2="643" stroke="#999" stroke-width="2"/><line x1="1000" x2="1000" y1="88" y2="100" stroke="#999" stroke-width="2"/><text x="1000" y="688" font-size="33" text-anchor="middle">1400</text><line x1="184.2" x2="184.2" y1="655" y2="649" stroke="#aaa" stroke-width="1.6"/><line x1="184.2" x2="184.2" y1="88" y2="94" stroke="#aaa" stroke-width="1.6"/><line x1="221.1" x2="221.1" y1="655" y2="649" stroke="#aaa" stroke-width="1.6"/><line x1="221.1" x2="221.1" y1="88" y2="94" stroke="#aaa" stroke-width="1.6"/><line x1="258.0" x2="258.0" y1="655" y2="649" stroke="#aaa" stroke-width="1.6"/><line x1="258.0" x2="258.0" y1="88" y2="94" stroke="#aaa" stroke-width="1.6"/><line x1="294.9" x2="294.9" y1="655" y2="649" stroke="#aaa" stroke-width="1.6"/><line x1="294.9" x2="294.9" y1="88" y2="94" stroke="#aaa" stroke-width="1.6"/><line x1="331.8" x2="331.8" y1="655" y2="649" stroke="#aaa" stroke-width="1.6"/><line x1="331.8" x2="331.8" y1="88" y2="94" stroke="#aaa" stroke-width="1.6"/><line x1="368.7" x2="368.7" y1="655" y2="649" stroke="#aaa" stroke-width="1.6"/><line x1="368.7" x2="368.7" y1="88" y2="94" stroke="#aaa" stroke-width="1.6"/><line x1="405.6" x2="405.6" y1="655" y2="649" stroke="#aaa" stroke-width="1.6"/><line x1="405.6" x2="405.6" y1="88" y2="94" stroke="#aaa" stroke-width="1.6"/><line x1="442.5" x2="442.5" y1="655" y2="649" stroke="#aaa" stroke-width="1.6"/><line x1="442.5" x2="442.5" y1="88" y2="94" stroke="#aaa" stroke-width="1.6"/><line x1="479.4" x2="479.4" y1="655" y2="649" stroke="#aaa" stroke-width="1.6"/><line x1="479.4" x2="479.4" y1="88" y2="94" stroke="#aaa" stroke-width="1.6"/><line x1="516.3" x2="516.3" y1="655" y2="649" stroke="#aaa" stroke-width="1.6"/><line x1="516.3" x2="516.3" y1="88" y2="94" stroke="#aaa" stroke-width="1.6"/><line x1="553.2" x2="553.2" y1="655" y2="649" stroke="#aaa" stroke-width="1.6"/><line x1="553.2" x2="553.2" y1="88" y2="94" stroke="#aaa" stroke-width="1.6"/><line x1="590.1" x2="590.1" y1="655" y2="649" stroke="#aaa" stroke-width="1.6"/><line x1="590.1" x2="590.1" y1="88" y2="94" stroke="#aaa" stroke-width="1.6"/><line x1="627.0" x2="627.0" y1="655" y2="649" stroke="#aaa" stroke-width="1.6"/><line x1="627.0" x2="627.0" y1="88" y2="94" stroke="#aaa" stroke-width="1.6"/><line x1="663.9" x2="663.9" y1="655" y2="649" stroke="#aaa" stroke-width="1.6"/><line x1="663.9" x2="663.9" y1="88" y2="94" stroke="#aaa" stroke-width="1.6"/><line x1="700.8" x2="700.8" y1="655" y2="649" stroke="#aaa" stroke-width="1.6"/><line x1="700.8" x2="700.8" y1="88" y2="94" stroke="#aaa" stroke-width="1.6"/><line x1="737.7" x2="737.7" y1="655" y2="649" stroke="#aaa" stroke-width="1.6"/><line x1="737.7" x2="737.7" y1="88" y2="94" stroke="#aaa" stroke-width="1.6"/><line x1="774.6" x2="774.6" y1="655" y2="649" stroke="#aaa" stroke-width="1.6"/><line x1="774.6" x2="774.6" y1="88" y2="94" stroke="#aaa" stroke-width="1.6"/><line x1="811.5" x2="811.5" y1="655" y2="649" stroke="#aaa" stroke-width="1.6"/><line x1="811.5" x2="811.5" y1="88" y2="94" stroke="#aaa" stroke-width="1.6"/><line x1="848.4" x2="848.4" y1="655" y2="649" stroke="#aaa" stroke-width="1.6"/><line x1="848.4" x2="848.4" y1="88" y2="94" stroke="#aaa" stroke-width="1.6"/><line x1="885.3" x2="885.3" y1="655" y2="649" stroke="#aaa" stroke-width="1.6"/><line x1="885.3" x2="885.3" y1="88" y2="94" stroke="#aaa" stroke-width="1.6"/><line x1="922.2" x2="922.2" y1="655" y2="649" stroke="#aaa" stroke-width="1.6"/><line x1="922.2" x2="922.2" y1="88" y2="94" stroke="#aaa" stroke-width="1.6"/><line x1="959.1" x2="959.1" y1="655" y2="649" stroke="#aaa" stroke-width="1.6"/><line x1="959.1" x2="959.1" y1="88" y2="94" stroke="#aaa" stroke-width="1.6"/><line x1="996.0" x2="996.0" y1="655" y2="649" stroke="#aaa" stroke-width="1.6"/><line x1="996.0" x2="996.0" y1="88" y2="94" stroke="#aaa" stroke-width="1.6"/><line x1="1032.9" x2="1032.9" y1="655" y2="649" stroke="#aaa" stroke-width="1.6"/><line x1="1032.9" x2="1032.9" y1="88" y2="94" stroke="#aaa" stroke-width="1.6"/><line x1="1069.8" x2="1069.8" y1="655" y2="649" stroke="#aaa" stroke-width="1.6"/><line x1="1069.8" x2="1069.8" y1="88" y2="94" stroke="#aaa" stroke-width="1.6"/><text x="150" y="666.0" font-size="33" text-anchor="end">0.0</text><line x1="157" x2="169" y1="655.0" y2="655.0" stroke="#999" stroke-width="2"/><line x1="1073" x2="1061" y1="655.0" y2="655.0" stroke="#999" stroke-width="2"/><text x="150" y="552.6" font-size="33" text-anchor="end">0.2</text><line x1="157" x2="169" y1="541.6" y2="541.6" stroke="#999" stroke-width="2"/><line x1="1073" x2="1061" y1="541.6" y2="541.6" stroke="#999" stroke-width="2"/><text x="150" y="439.2" font-size="33" text-anchor="end">0.4</text><line x1="157" x2="169" y1="428.2" y2="428.2" stroke="#999" stroke-width="2"/><line x1="1073" x2="1061" y1="428.2" y2="428.2" stroke="#999" stroke-width="2"/><text x="150" y="325.8" font-size="33" text-anchor="end">0.6</text><line x1="157" x2="169" y1="314.8" y2="314.8" stroke="#999" stroke-width="2"/><line x1="1073" x2="1061" y1="314.8" y2="314.8" stroke="#999" stroke-width="2"/><text x="150" y="212.4" font-size="33" text-anchor="end">0.8</text><line x1="157" x2="169" y1="201.4" y2="201.4" stroke="#999" stroke-width="2"/><line x1="1073" x2="1061" y1="201.4" y2="201.4" stroke="#999" stroke-width="2"/><text x="150" y="99.0" font-size="33" text-anchor="end">1.0</text><line x1="157" x2="169" y1="88.0" y2="88.0" stroke="#999" stroke-width="2"/><line x1="1073" x2="1061" y1="88.0" y2="88.0" stroke="#999" stroke-width="2"/><line x1="157" x2="163" y1="655.0" y2="655.0" stroke="#aaa" stroke-width="1.6"/><line x1="1073" x2="1067" y1="655.0" y2="655.0" stroke="#aaa" stroke-width="1.6"/><line x1="157" x2="163" y1="632.3" y2="632.3" stroke="#aaa" stroke-width="1.6"/><line x1="1073" x2="1067" y1="632.3" y2="632.3" stroke="#aaa" stroke-width="1.6"/><line x1="157" x2="163" y1="609.6" y2="609.6" stroke="#aaa" stroke-width="1.6"/><line x1="1073" x2="1067" y1="609.6" y2="609.6" stroke="#aaa" stroke-width="1.6"/><line x1="157" x2="163" y1="587.0" y2="587.0" stroke="#aaa" stroke-width="1.6"/><line x1="1073" x2="1067" y1="587.0" y2="587.0" stroke="#aaa" stroke-width="1.6"/><line x1="157" x2="163" y1="564.3" y2="564.3" stroke="#aaa" stroke-width="1.6"/><line x1="1073" x2="1067" y1="564.3" y2="564.3" stroke="#aaa" stroke-width="1.6"/><line x1="157" x2="163" y1="541.6" y2="541.6" stroke="#aaa" stroke-width="1.6"/><line x1="1073" x2="1067" y1="541.6" y2="541.6" stroke="#aaa" stroke-width="1.6"/><line x1="157" x2="163" y1="518.9" y2="518.9" stroke="#aaa" stroke-width="1.6"/><line x1="1073" x2="1067" y1="518.9" y2="518.9" stroke="#aaa" stroke-width="1.6"/><line x1="157" x2="163" y1="496.2" y2="496.2" stroke="#aaa" stroke-width="1.6"/><line x1="1073" x2="1067" y1="496.2" y2="496.2" stroke="#aaa" stroke-width="1.6"/><line x1="157" x2="163" y1="473.6" y2="473.6" stroke="#aaa" stroke-width="1.6"/><line x1="1073" x2="1067" y1="473.6" y2="473.6" stroke="#aaa" stroke-width="1.6"/><line x1="157" x2="163" y1="450.9" y2="450.9" stroke="#aaa" stroke-width="1.6"/><line x1="1073" x2="1067" y1="450.9" y2="450.9" stroke="#aaa" stroke-width="1.6"/><line x1="157" x2="163" y1="428.2" y2="428.2" stroke="#aaa" stroke-width="1.6"/><line x1="1073" x2="1067" y1="428.2" y2="428.2" stroke="#aaa" stroke-width="1.6"/><line x1="157" x2="163" y1="405.5" y2="405.5" stroke="#aaa" stroke-width="1.6"/><line x1="1073" x2="1067" y1="405.5" y2="405.5" stroke="#aaa" stroke-width="1.6"/><line x1="157" x2="163" y1="382.8" y2="382.8" stroke="#aaa" stroke-width="1.6"/><line x1="1073" x2="1067" y1="382.8" y2="382.8" stroke="#aaa" stroke-width="1.6"/><line x1="157" x2="163" y1="360.2" y2="360.2" stroke="#aaa" stroke-width="1.6"/><line x1="1073" x2="1067" y1="360.2" y2="360.2" stroke="#aaa" stroke-width="1.6"/><line x1="157" x2="163" y1="337.5" y2="337.5" stroke="#aaa" stroke-width="1.6"/><line x1="1073" x2="1067" y1="337.5" y2="337.5" stroke="#aaa" stroke-width="1.6"/><line x1="157" x2="163" y1="314.8" y2="314.8" stroke="#aaa" stroke-width="1.6"/><line x1="1073" x2="1067" y1="314.8" y2="314.8" stroke="#aaa" stroke-width="1.6"/><line x1="157" x2="163" y1="292.1" y2="292.1" stroke="#aaa" stroke-width="1.6"/><line x1="1073" x2="1067" y1="292.1" y2="292.1" stroke="#aaa" stroke-width="1.6"/><line x1="157" x2="163" y1="269.4" y2="269.4" stroke="#aaa" stroke-width="1.6"/><line x1="1073" x2="1067" y1="269.4" y2="269.4" stroke="#aaa" stroke-width="1.6"/><line x1="157" x2="163" y1="246.8" y2="246.8" stroke="#aaa" stroke-width="1.6"/><line x1="1073" x2="1067" y1="246.8" y2="246.8" stroke="#aaa" stroke-width="1.6"/><line x1="157" x2="163" y1="224.1" y2="224.1" stroke="#aaa" stroke-width="1.6"/><line x1="1073" x2="1067" y1="224.1" y2="224.1" stroke="#aaa" stroke-width="1.6"/><line x1="157" x2="163" y1="201.4" y2="201.4" stroke="#aaa" stroke-width="1.6"/><line x1="1073" x2="1067" y1="201.4" y2="201.4" stroke="#aaa" stroke-width="1.6"/><line x1="157" x2="163" y1="178.7" y2="178.7" stroke="#aaa" stroke-width="1.6"/><line x1="1073" x2="1067" y1="178.7" y2="178.7" stroke="#aaa" stroke-width="1.6"/><line x1="157" x2="163" y1="156.0" y2="156.0" stroke="#aaa" stroke-width="1.6"/><line x1="1073" x2="1067" y1="156.0" y2="156.0" stroke="#aaa" stroke-width="1.6"/><line x1="157" x2="163" y1="133.4" y2="133.4" stroke="#aaa" stroke-width="1.6"/><line x1="1073" x2="1067" y1="133.4" y2="133.4" stroke="#aaa" stroke-width="1.6"/><line x1="157" x2="163" y1="110.7" y2="110.7" stroke="#aaa" stroke-width="1.6"/><line x1="1073" x2="1067" y1="110.7" y2="110.7" stroke="#aaa" stroke-width="1.6"/><path d="M157.0,213.0 C197.5,210.3 326.2,202.8 400.0,197.0 C473.8,191.2 533.3,184.7 600.0,178.0 C666.7,171.3 733.3,165.0 800.0,157.0 C866.7,149.0 954.5,136.5 1000.0,130.0 C1045.5,123.5 1060.8,120.0 1073.0,118.0" fill="none" stroke="#999" stroke-width="2.8"/><path d="M157.0,188.0 C197.5,183.8 326.2,170.5 400.0,163.0 C473.8,155.5 533.3,149.3 600.0,143.0 C666.7,136.7 733.3,131.3 800.0,125.0 C866.7,118.7 954.5,110.0 1000.0,105.0 C1045.5,100.0 1060.8,96.7 1073.0,95.0" fill="none" stroke="#aaa" stroke-width="2.8" stroke-dasharray="12,7"/><path d="M157,611 L1073,291" fill="none" stroke="#7070ee" stroke-width="2.8"/><path d="M157.0,579.0 C172.8,572.3 176.2,566.3 252.0,539.0 C327.8,511.7 475.2,458.2 612.0,415.0 C748.8,371.8 996.2,302.5 1073.0,280.0" fill="none" stroke="#7070ee" stroke-width="2.8" stroke-dasharray="12,7"/><path d="M157.0,420.0 C181.2,415.5 267.0,398.0 302.0,393.0 C337.0,388.0 333.7,389.0 367.0,390.0 C400.3,391.0 451.2,393.5 502.0,399.0 C552.8,404.5 605.3,412.2 672.0,423.0 C738.7,433.8 835.2,452.2 902.0,464.0 C968.8,475.8 1044.5,489.0 1073.0,494.0" fill="none" stroke="#a860b4" stroke-width="2.8"/><path d="M157.0,401.0 C181.2,399.7 253.2,393.5 302.0,393.0 C350.8,392.5 400.0,394.3 450.0,398.0 C500.0,401.7 535.3,406.3 602.0,415.0 C668.7,423.7 771.5,438.2 850.0,450.0 C928.5,461.8 1035.8,480.0 1073.0,486.0" fill="none" stroke="#a860b4" stroke-width="2.8" stroke-dasharray="12,7"/><path d="M157.0,493.0 C183.7,503.5 251.2,536.7 317.0,556.0 C382.8,575.3 471.5,596.3 552.0,609.0 C632.5,621.7 713.2,626.0 800.0,632.0 C886.8,638.0 1027.5,642.8 1073.0,645.0" fill="none" stroke="#ee6a6a" stroke-width="2.8"/><path d="M157.0,516.0 C170.3,521.5 187.8,535.7 237.0,549.0 C286.2,562.3 366.5,583.3 452.0,596.0 C537.5,608.7 646.5,616.8 750.0,625.0 C853.5,633.2 1019.2,641.7 1073.0,645.0" fill="none" stroke="#ee6a6a" stroke-width="2.8" stroke-dasharray="12,7"/><text x="1055" y="165" font-size="33" text-anchor="end" fill="#888">sum of the three</text><text x="1055" y="280" font-size="33" text-anchor="end" fill="#4a4ae0">(u/d) + (u/d)</text><text x="1055" y="457" font-size="33" text-anchor="end" fill="#9040a0">g + (u/d)</text><text x="1055" y="635" font-size="33" text-anchor="end" fill="#e04040">g + g</text><line x1="200" x2="255" y1="270" y2="270" stroke="#999" stroke-width="3"/><line x1="200" x2="255" y1="325" y2="325" stroke="#999" stroke-width="3" stroke-dasharray="12,7"/><text x="280" y="280" font-size="31">2 jets</text><text x="280" y="335" font-size="31">3 jets</text><text transform="translate(98,370) rotate(-90)" font-size="32" text-anchor="middle"><tspan font-style="italic">σ</tspan><tspan font-size="21" dy="6" font-style="italic">i</tspan><tspan dy="-6"> / </tspan><tspan font-style="italic">σ</tspan><tspan font-size="21" dy="6">tot</tspan></text></g></svg><svg class="abs" style="left:84px;top:430px" width="340" height="230" viewBox="0 0 1078.00 729.24"><g font-family="Liberation Sans" fill="#111"><polygon points="188.9,146.5 198.8,159.6 208.7,172.2 218.6,184.3 228.5,196.0 238.4,207.3 248.3,218.2 258.1,228.7 268.0,238.9 277.9,248.7 287.8,258.2 297.7,267.4 307.6,276.3 317.5,284.9 327.4,293.2 337.3,301.3 347.2,309.1 357.1,316.7 367.0,324.0 376.9,331.1 386.8,338.0 396.7,344.7 406.6,351.2 416.4,357.5 426.3,363.6 436.2,369.5 446.1,375.3 456.0,380.9 465.9,386.4 475.8,391.7 485.7,396.8 495.6,401.8 505.5,406.7 515.4,411.4 525.3,416.0 535.2,420.5 545.1,424.9 555.0,429.2 564.8,433.3 574.7,437.4 584.6,441.3 594.5,445.2 604.4,448.9 614.3,452.6 624.2,456.2 634.1,459.6 644.0,463.0 653.9,466.4 663.8,469.6 673.7,472.8 683.6,475.9 693.5,478.9 703.4,481.9 713.2,484.8 723.1,487.6 733.0,490.4 742.9,493.1 752.8,495.8 762.7,498.4 772.6,500.9 782.5,503.4 792.4,505.9 802.3,508.3 812.2,510.7 822.1,513.0 832.0,515.3 841.9,517.5 851.8,519.7 861.6,521.8 871.5,523.9 881.4,526.0 891.3,528.1 901.2,530.1 911.1,532.0 921.0,534.0 930.9,535.9 940.8,537.8 950.7,539.6 960.6,541.5 970.5,543.2 980.4,545.0 990.3,546.8 1000.2,548.5 1010.0,550.2 1019.9,551.8 1029.8,553.5 1032.9,554.0 1032.9,568.5 1029.8,568.0 1019.9,566.3 1010.0,564.7 1000.2,563.0 990.3,561.3 980.4,559.5 970.5,557.8 960.6,556.0 950.7,554.2 940.8,552.3 930.9,550.4 921.0,548.5 911.1,546.6 901.2,544.6 891.3,542.6 881.4,540.6 871.5,538.5 861.6,536.4 851.8,534.3 841.9,532.2 832.0,530.0 822.1,527.7 812.2,525.5 802.3,523.2 792.4,520.9 782.5,518.5 772.6,516.1 762.7,513.6 752.8,511.1 742.9,508.6 733.0,506.1 723.1,503.5 713.2,500.8 703.4,498.1 693.5,495.4 683.6,492.6 673.7,489.8 663.8,486.9 653.9,484.0 644.0,481.0 634.1,478.0 624.2,475.0 614.3,471.8 604.4,468.7 594.5,465.4 584.6,462.2 574.7,458.8 564.8,455.4 555.0,452.0 545.1,448.4 535.2,444.9 525.3,441.2 515.4,437.5 505.5,433.7 495.6,429.8 485.7,425.9 475.8,421.8 465.9,417.7 456.0,413.5 446.1,409.3 436.2,404.9 426.3,400.4 416.4,395.9 406.6,391.2 396.7,386.4 386.8,381.5 376.9,376.5 367.0,371.3 357.1,366.1 347.2,360.7 337.3,355.1 327.4,349.4 317.5,343.6 307.6,337.5 297.7,331.3 287.8,324.9 277.9,318.4 268.0,311.6 258.1,304.6 248.3,297.3 238.4,289.9 228.5,282.1 218.6,274.1 208.7,265.8 198.8,257.2 188.9,248.2" fill="#f5f200"/><polyline points="188.9,197.4 198.8,208.4 208.7,219.0 218.6,229.2 228.5,239.1 238.4,248.6 248.3,257.8 258.1,266.7 268.0,275.2 277.9,283.6 287.8,291.6 297.7,299.4 307.6,306.9 317.5,314.2 327.4,321.3 337.3,328.2 347.2,334.9 357.1,341.4 367.0,347.7 376.9,353.8 386.8,359.7 396.7,365.5 406.6,371.2 416.4,376.7 426.3,382.0 436.2,387.2 446.1,392.3 456.0,397.2 465.9,402.0 475.8,406.7 485.7,411.3 495.6,415.8 505.5,420.2 515.4,424.5 525.3,428.6 535.2,432.7 545.1,436.7 555.0,440.6 564.8,444.4 574.7,448.1 584.6,451.7 594.5,455.3 604.4,458.8 614.3,462.2 624.2,465.6 634.1,468.8 644.0,472.0 653.9,475.2 663.8,478.3 673.7,481.3 683.6,484.2 693.5,487.2 703.4,490.0 713.2,492.8 723.1,495.5 733.0,498.2 742.9,500.9 752.8,503.5 762.7,506.0 772.6,508.5 782.5,511.0 792.4,513.4 802.3,515.7 812.2,518.1 822.1,520.4 832.0,522.6 841.9,524.8 851.8,527.0 861.6,529.1 871.5,531.2 881.4,533.3 891.3,535.3 901.2,537.3 911.1,539.3 921.0,541.3 930.9,543.2 940.8,545.0 950.7,546.9 960.6,548.7 970.5,550.5 980.4,552.3 990.3,554.0 1000.2,555.7 1010.0,557.4 1019.9,559.1 1029.8,560.7 1032.9,561.2" fill="none" stroke="#1a1a1a" stroke-width="3"/><rect x="173" y="55" width="862" height="582" fill="none" stroke="#222" stroke-width="2.5"/><text x="160" y="98.0" font-size="31" text-anchor="end">0.24</text><line x1="173" x2="195" y1="87.0" y2="87.0" stroke="#222" stroke-width="2.5"/><line x1="1035" x2="1013" y1="87.0" y2="87.0" stroke="#222" stroke-width="2.5"/><line x1="173" x2="184" y1="98.6" y2="98.6" stroke="#222" stroke-width="2"/><line x1="1035" x2="1024" y1="98.6" y2="98.6" stroke="#222" stroke-width="2"/><line x1="173" x2="184" y1="110.2" y2="110.2" stroke="#222" stroke-width="2"/><line x1="1035" x2="1024" y1="110.2" y2="110.2" stroke="#222" stroke-width="2"/><line x1="173" x2="184" y1="121.9" y2="121.9" stroke="#222" stroke-width="2"/><line x1="1035" x2="1024" y1="121.9" y2="121.9" stroke="#222" stroke-width="2"/><line x1="173" x2="184" y1="133.5" y2="133.5" stroke="#222" stroke-width="2"/><line x1="1035" x2="1024" y1="133.5" y2="133.5" stroke="#222" stroke-width="2"/><text x="160" y="156.1" font-size="31" text-anchor="end">0.22</text><line x1="173" x2="195" y1="145.1" y2="145.1" stroke="#222" stroke-width="2.5"/><line x1="1035" x2="1013" y1="145.1" y2="145.1" stroke="#222" stroke-width="2.5"/><line x1="173" x2="184" y1="156.7" y2="156.7" stroke="#222" stroke-width="2"/><line x1="1035" x2="1024" y1="156.7" y2="156.7" stroke="#222" stroke-width="2"/><line x1="173" x2="184" y1="168.3" y2="168.3" stroke="#222" stroke-width="2"/><line x1="1035" x2="1024" y1="168.3" y2="168.3" stroke="#222" stroke-width="2"/><line x1="173" x2="184" y1="180.0" y2="180.0" stroke="#222" stroke-width="2"/><line x1="1035" x2="1024" y1="180.0" y2="180.0" stroke="#222" stroke-width="2"/><line x1="173" x2="184" y1="191.6" y2="191.6" stroke="#222" stroke-width="2"/><line x1="1035" x2="1024" y1="191.6" y2="191.6" stroke="#222" stroke-width="2"/><text x="160" y="214.2" font-size="31" text-anchor="end">0.2</text><line x1="173" x2="195" y1="203.2" y2="203.2" stroke="#222" stroke-width="2.5"/><line x1="1035" x2="1013" y1="203.2" y2="203.2" stroke="#222" stroke-width="2.5"/><line x1="173" x2="184" y1="214.8" y2="214.8" stroke="#222" stroke-width="2"/><line x1="1035" x2="1024" y1="214.8" y2="214.8" stroke="#222" stroke-width="2"/><line x1="173" x2="184" y1="226.4" y2="226.4" stroke="#222" stroke-width="2"/><line x1="1035" x2="1024" y1="226.4" y2="226.4" stroke="#222" stroke-width="2"/><line x1="173" x2="184" y1="238.1" y2="238.1" stroke="#222" stroke-width="2"/><line x1="1035" x2="1024" y1="238.1" y2="238.1" stroke="#222" stroke-width="2"/><line x1="173" x2="184" y1="249.7" y2="249.7" stroke="#222" stroke-width="2"/><line x1="1035" x2="1024" y1="249.7" y2="249.7" stroke="#222" stroke-width="2"/><text x="160" y="272.3" font-size="31" text-anchor="end">0.18</text><line x1="173" x2="195" y1="261.3" y2="261.3" stroke="#222" stroke-width="2.5"/><line x1="1035" x2="1013" y1="261.3" y2="261.3" stroke="#222" stroke-width="2.5"/><line x1="173" x2="184" y1="272.9" y2="272.9" stroke="#222" stroke-width="2"/><line x1="1035" x2="1024" y1="272.9" y2="272.9" stroke="#222" stroke-width="2"/><line x1="173" x2="184" y1="284.5" y2="284.5" stroke="#222" stroke-width="2"/><line x1="1035" x2="1024" y1="284.5" y2="284.5" stroke="#222" stroke-width="2"/><line x1="173" x2="184" y1="296.2" y2="296.2" stroke="#222" stroke-width="2"/><line x1="1035" x2="1024" y1="296.2" y2="296.2" stroke="#222" stroke-width="2"/><line x1="173" x2="184" y1="307.8" y2="307.8" stroke="#222" stroke-width="2"/><line x1="1035" x2="1024" y1="307.8" y2="307.8" stroke="#222" stroke-width="2"/><text x="160" y="330.4" font-size="31" text-anchor="end">0.16</text><line x1="173" x2="195" y1="319.4" y2="319.4" stroke="#222" stroke-width="2.5"/><line x1="1035" x2="1013" y1="319.4" y2="319.4" stroke="#222" stroke-width="2.5"/><line x1="173" x2="184" y1="331.0" y2="331.0" stroke="#222" stroke-width="2"/><line x1="1035" x2="1024" y1="331.0" y2="331.0" stroke="#222" stroke-width="2"/><line x1="173" x2="184" y1="342.6" y2="342.6" stroke="#222" stroke-width="2"/><line x1="1035" x2="1024" y1="342.6" y2="342.6" stroke="#222" stroke-width="2"/><line x1="173" x2="184" y1="354.3" y2="354.3" stroke="#222" stroke-width="2"/><line x1="1035" x2="1024" y1="354.3" y2="354.3" stroke="#222" stroke-width="2"/><line x1="173" x2="184" y1="365.9" y2="365.9" stroke="#222" stroke-width="2"/><line x1="1035" x2="1024" y1="365.9" y2="365.9" stroke="#222" stroke-width="2"/><text x="160" y="388.5" font-size="31" text-anchor="end">0.14</text><line x1="173" x2="195" y1="377.5" y2="377.5" stroke="#222" stroke-width="2.5"/><line x1="1035" x2="1013" y1="377.5" y2="377.5" stroke="#222" stroke-width="2.5"/><line x1="173" x2="184" y1="389.1" y2="389.1" stroke="#222" stroke-width="2"/><line x1="1035" x2="1024" y1="389.1" y2="389.1" stroke="#222" stroke-width="2"/><line x1="173" x2="184" y1="400.7" y2="400.7" stroke="#222" stroke-width="2"/><line x1="1035" x2="1024" y1="400.7" y2="400.7" stroke="#222" stroke-width="2"/><line x1="173" x2="184" y1="412.4" y2="412.4" stroke="#222" stroke-width="2"/><line x1="1035" x2="1024" y1="412.4" y2="412.4" stroke="#222" stroke-width="2"/><line x1="173" x2="184" y1="424.0" y2="424.0" stroke="#222" stroke-width="2"/><line x1="1035" x2="1024" y1="424.0" y2="424.0" stroke="#222" stroke-width="2"/><text x="160" y="446.6" font-size="31" text-anchor="end">0.12</text><line x1="173" x2="195" y1="435.6" y2="435.6" stroke="#222" stroke-width="2.5"/><line x1="1035" x2="1013" y1="435.6" y2="435.6" stroke="#222" stroke-width="2.5"/><line x1="173" x2="184" y1="447.2" y2="447.2" stroke="#222" stroke-width="2"/><line x1="1035" x2="1024" y1="447.2" y2="447.2" stroke="#222" stroke-width="2"/><line x1="173" x2="184" y1="458.8" y2="458.8" stroke="#222" stroke-width="2"/><line x1="1035" x2="1024" y1="458.8" y2="458.8" stroke="#222" stroke-width="2"/><line x1="173" x2="184" y1="470.5" y2="470.5" stroke="#222" stroke-width="2"/><line x1="1035" x2="1024" y1="470.5" y2="470.5" stroke="#222" stroke-width="2"/><line x1="173" x2="184" y1="482.1" y2="482.1" stroke="#222" stroke-width="2"/><line x1="1035" x2="1024" y1="482.1" y2="482.1" stroke="#222" stroke-width="2"/><text x="160" y="504.7" font-size="31" text-anchor="end">0.1</text><line x1="173" x2="195" y1="493.7" y2="493.7" stroke="#222" stroke-width="2.5"/><line x1="1035" x2="1013" y1="493.7" y2="493.7" stroke="#222" stroke-width="2.5"/><line x1="173" x2="184" y1="505.3" y2="505.3" stroke="#222" stroke-width="2"/><line x1="1035" x2="1024" y1="505.3" y2="505.3" stroke="#222" stroke-width="2"/><line x1="173" x2="184" y1="516.9" y2="516.9" stroke="#222" stroke-width="2"/><line x1="1035" x2="1024" y1="516.9" y2="516.9" stroke="#222" stroke-width="2"/><line x1="173" x2="184" y1="528.6" y2="528.6" stroke="#222" stroke-width="2"/><line x1="1035" x2="1024" y1="528.6" y2="528.6" stroke="#222" stroke-width="2"/><line x1="173" x2="184" y1="540.2" y2="540.2" stroke="#222" stroke-width="2"/><line x1="1035" x2="1024" y1="540.2" y2="540.2" stroke="#222" stroke-width="2"/><text x="160" y="562.8" font-size="31" text-anchor="end">0.08</text><line x1="173" x2="195" y1="551.8" y2="551.8" stroke="#222" stroke-width="2.5"/><line x1="1035" x2="1013" y1="551.8" y2="551.8" stroke="#222" stroke-width="2.5"/><line x1="173" x2="184" y1="563.4" y2="563.4" stroke="#222" stroke-width="2"/><line x1="1035" x2="1024" y1="563.4" y2="563.4" stroke="#222" stroke-width="2"/><line x1="173" x2="184" y1="575.0" y2="575.0" stroke="#222" stroke-width="2"/><line x1="1035" x2="1024" y1="575.0" y2="575.0" stroke="#222" stroke-width="2"/><line x1="173" x2="184" y1="586.7" y2="586.7" stroke="#222" stroke-width="2"/><line x1="1035" x2="1024" y1="586.7" y2="586.7" stroke="#222" stroke-width="2"/><line x1="173" x2="184" y1="598.3" y2="598.3" stroke="#222" stroke-width="2"/><line x1="1035" x2="1024" y1="598.3" y2="598.3" stroke="#222" stroke-width="2"/><text x="160" y="620.9" font-size="31" text-anchor="end">0.06</text><line x1="173" x2="195" y1="609.9" y2="609.9" stroke="#222" stroke-width="2.5"/><line x1="1035" x2="1013" y1="609.9" y2="609.9" stroke="#222" stroke-width="2.5"/><line x1="173" x2="184" y1="621.5" y2="621.5" stroke="#222" stroke-width="2"/><line x1="1035" x2="1024" y1="621.5" y2="621.5" stroke="#222" stroke-width="2"/><line x1="173" x2="184" y1="633.1" y2="633.1" stroke="#222" stroke-width="2"/><line x1="1035" x2="1024" y1="633.1" y2="633.1" stroke="#222" stroke-width="2"/><line x1="278.0" x2="278.0" y1="637" y2="613" stroke="#222" stroke-width="2.5"/><line x1="278.0" x2="278.0" y1="55" y2="79" stroke="#222" stroke-width="2.5"/><line x1="574.0" x2="574.0" y1="637" y2="613" stroke="#222" stroke-width="2.5"/><line x1="574.0" x2="574.0" y1="55" y2="79" stroke="#222" stroke-width="2.5"/><line x1="870.0" x2="870.0" y1="637" y2="613" stroke="#222" stroke-width="2.5"/><line x1="870.0" x2="870.0" y1="55" y2="79" stroke="#222" stroke-width="2.5"/><line x1="188.9" x2="188.9" y1="637" y2="625" stroke="#222" stroke-width="2"/><line x1="188.9" x2="188.9" y1="55" y2="67" stroke="#222" stroke-width="2"/><line x1="212.3" x2="212.3" y1="637" y2="625" stroke="#222" stroke-width="2"/><line x1="212.3" x2="212.3" y1="55" y2="67" stroke="#222" stroke-width="2"/><line x1="232.1" x2="232.1" y1="637" y2="625" stroke="#222" stroke-width="2"/><line x1="232.1" x2="232.1" y1="55" y2="67" stroke="#222" stroke-width="2"/><line x1="249.3" x2="249.3" y1="637" y2="625" stroke="#222" stroke-width="2"/><line x1="249.3" x2="249.3" y1="55" y2="67" stroke="#222" stroke-width="2"/><line x1="264.5" x2="264.5" y1="637" y2="625" stroke="#222" stroke-width="2"/><line x1="264.5" x2="264.5" y1="55" y2="67" stroke="#222" stroke-width="2"/><line x1="367.1" x2="367.1" y1="637" y2="625" stroke="#222" stroke-width="2"/><line x1="367.1" x2="367.1" y1="55" y2="67" stroke="#222" stroke-width="2"/><line x1="419.2" x2="419.2" y1="637" y2="625" stroke="#222" stroke-width="2"/><line x1="419.2" x2="419.2" y1="55" y2="67" stroke="#222" stroke-width="2"/><line x1="456.2" x2="456.2" y1="637" y2="625" stroke="#222" stroke-width="2"/><line x1="456.2" x2="456.2" y1="55" y2="67" stroke="#222" stroke-width="2"/><line x1="484.9" x2="484.9" y1="637" y2="625" stroke="#222" stroke-width="2"/><line x1="484.9" x2="484.9" y1="55" y2="67" stroke="#222" stroke-width="2"/><line x1="508.3" x2="508.3" y1="637" y2="625" stroke="#222" stroke-width="2"/><line x1="508.3" x2="508.3" y1="55" y2="67" stroke="#222" stroke-width="2"/><line x1="528.1" x2="528.1" y1="637" y2="625" stroke="#222" stroke-width="2"/><line x1="528.1" x2="528.1" y1="55" y2="67" stroke="#222" stroke-width="2"/><line x1="545.3" x2="545.3" y1="637" y2="625" stroke="#222" stroke-width="2"/><line x1="545.3" x2="545.3" y1="55" y2="67" stroke="#222" stroke-width="2"/><line x1="560.5" x2="560.5" y1="637" y2="625" stroke="#222" stroke-width="2"/><line x1="560.5" x2="560.5" y1="55" y2="67" stroke="#222" stroke-width="2"/><line x1="663.1" x2="663.1" y1="637" y2="625" stroke="#222" stroke-width="2"/><line x1="663.1" x2="663.1" y1="55" y2="67" stroke="#222" stroke-width="2"/><line x1="715.2" x2="715.2" y1="637" y2="625" stroke="#222" stroke-width="2"/><line x1="715.2" x2="715.2" y1="55" y2="67" stroke="#222" stroke-width="2"/><line x1="752.2" x2="752.2" y1="637" y2="625" stroke="#222" stroke-width="2"/><line x1="752.2" x2="752.2" y1="55" y2="67" stroke="#222" stroke-width="2"/><line x1="780.9" x2="780.9" y1="637" y2="625" stroke="#222" stroke-width="2"/><line x1="780.9" x2="780.9" y1="55" y2="67" stroke="#222" stroke-width="2"/><line x1="804.3" x2="804.3" y1="637" y2="625" stroke="#222" stroke-width="2"/><line x1="804.3" x2="804.3" y1="55" y2="67" stroke="#222" stroke-width="2"/><line x1="824.1" x2="824.1" y1="637" y2="625" stroke="#222" stroke-width="2"/><line x1="824.1" x2="824.1" y1="55" y2="67" stroke="#222" stroke-width="2"/><line x1="841.3" x2="841.3" y1="637" y2="625" stroke="#222" stroke-width="2"/><line x1="841.3" x2="841.3" y1="55" y2="67" stroke="#222" stroke-width="2"/><line x1="856.5" x2="856.5" y1="637" y2="625" stroke="#222" stroke-width="2"/><line x1="856.5" x2="856.5" y1="55" y2="67" stroke="#222" stroke-width="2"/><line x1="959.1" x2="959.1" y1="637" y2="625" stroke="#222" stroke-width="2"/><line x1="959.1" x2="959.1" y1="55" y2="67" stroke="#222" stroke-width="2"/><line x1="1011.2" x2="1011.2" y1="637" y2="625" stroke="#222" stroke-width="2"/><line x1="1011.2" x2="1011.2" y1="55" y2="67" stroke="#222" stroke-width="2"/><text x="278" y="686" font-size="31" text-anchor="middle">10</text><text x="575" y="686" font-size="31" text-anchor="middle">10<tspan font-size="21" dy="-12">2</tspan></text><text x="870" y="686" font-size="31" text-anchor="middle">10<tspan font-size="21" dy="-12">3</tspan></text><text x="1030" y="712" font-size="40" text-anchor="end">Q (GeV)</text><text transform="translate(58,105) rotate(-90)" font-size="40" text-anchor="middle">α<tspan font-size="26" dy="8">S</tspan><tspan dy="-8">(Q)</tspan></text><line x1="205" x2="205" y1="135" y2="265" stroke="#444" stroke-width="2.2"/><circle cx="205" cy="200" r="6" fill="none" stroke="#222" stroke-width="2"/><line x1="213" x2="213" y1="150" y2="260" stroke="#444" stroke-width="2.2"/><circle cx="213" cy="205" r="6" fill="none" stroke="#222" stroke-width="2"/><line x1="222" x2="222" y1="153" y2="273" stroke="#444" stroke-width="2.2"/><circle cx="222" cy="213" r="6" fill="none" stroke="#222" stroke-width="2"/><line x1="248" x2="248" y1="218" y2="318" stroke="#444" stroke-width="2.2"/><circle cx="248" cy="268" r="6" fill="none" stroke="#222" stroke-width="2"/><line x1="300" x2="300" y1="259" y2="315" stroke="#444" stroke-width="2.2"/><circle cx="300" cy="287" r="6" fill="none" stroke="#222" stroke-width="2"/><line x1="316" x2="316" y1="279" y2="335" stroke="#444" stroke-width="2.2"/><circle cx="316" cy="307" r="6" fill="none" stroke="#222" stroke-width="2"/><line x1="333" x2="333" y1="285" y2="335" stroke="#444" stroke-width="2.2"/><circle cx="333" cy="310" r="6" fill="none" stroke="#222" stroke-width="2"/><line x1="356" x2="356" y1="308" y2="352" stroke="#444" stroke-width="2.2"/><circle cx="356" cy="330" r="6" fill="none" stroke="#222" stroke-width="2"/><line x1="417" x2="417" y1="368" y2="398" stroke="#444" stroke-width="2.2"/><circle cx="417" cy="383" r="6" fill="none" stroke="#222" stroke-width="2"/><line x1="497" x2="497" y1="403" y2="447" stroke="#444" stroke-width="2.2"/><circle cx="497" cy="425" r="6" fill="none" stroke="#222" stroke-width="2"/><line x1="521" x2="521" y1="432" y2="462" stroke="#444" stroke-width="2.2"/><circle cx="521" cy="447" r="6" fill="none" stroke="#222" stroke-width="2"/><line x1="385" x2="385" y1="296" y2="360" stroke="#e060e0" stroke-width="2.2"/><path d="M385,322 L391,328 L385,334 L379,328 Z" fill="none" stroke="#d040d0" stroke-width="2"/><line x1="405" x2="405" y1="319" y2="375" stroke="#e060e0" stroke-width="2.2"/><path d="M405,341 L411,347 L405,353 L399,347 Z" fill="none" stroke="#d040d0" stroke-width="2"/><line x1="428" x2="428" y1="338" y2="388" stroke="#e060e0" stroke-width="2.2"/><path d="M428,357 L434,363 L428,369 L422,363 Z" fill="none" stroke="#d040d0" stroke-width="2"/><line x1="448" x2="448" y1="357" y2="397" stroke="#e060e0" stroke-width="2.2"/><path d="M448,371 L454,377 L448,383 L442,377 Z" fill="none" stroke="#d040d0" stroke-width="2"/><line x1="468" x2="468" y1="366" y2="406" stroke="#e060e0" stroke-width="2.2"/><path d="M468,380 L474,386 L468,392 L462,386 Z" fill="none" stroke="#d040d0" stroke-width="2"/><line x1="490" x2="490" y1="376" y2="416" stroke="#e060e0" stroke-width="2.2"/><path d="M490,390 L496,396 L490,402 L484,396 Z" fill="none" stroke="#d040d0" stroke-width="2"/><line x1="510" x2="510" y1="395" y2="431" stroke="#e060e0" stroke-width="2.2"/><path d="M510,407 L516,413 L510,419 L504,413 Z" fill="none" stroke="#d040d0" stroke-width="2"/><line x1="535" x2="535" y1="410" y2="440" stroke="#e060e0" stroke-width="2.2"/><path d="M535,419 L541,425 L535,431 L529,425 Z" fill="none" stroke="#d040d0" stroke-width="2"/><line x1="497" x2="497" y1="358" y2="418" stroke="#f06060" stroke-width="2.2"/><circle cx="497" cy="388" r="5.5" fill="none" stroke="#e04040" stroke-width="2"/><line x1="521" x2="521" y1="375" y2="435" stroke="#f06060" stroke-width="2.2"/><circle cx="521" cy="405" r="5.5" fill="none" stroke="#e04040" stroke-width="2"/><line x1="545" x2="545" y1="407" y2="437" stroke="#f06060" stroke-width="2.2"/><circle cx="545" cy="422" r="5.5" fill="none" stroke="#e04040" stroke-width="2"/><line x1="570" x2="570" y1="422" y2="452" stroke="#f06060" stroke-width="2.2"/><circle cx="570" cy="437" r="5.5" fill="none" stroke="#e04040" stroke-width="2"/><line x1="597" x2="597" y1="438" y2="462" stroke="#f06060" stroke-width="2.2"/><circle cx="597" cy="450" r="5.5" fill="none" stroke="#e04040" stroke-width="2"/><line x1="635" x2="635" y1="460" y2="480" stroke="#f06060" stroke-width="2.2"/><circle cx="635" cy="470" r="5.5" fill="none" stroke="#e04040" stroke-width="2"/><line x1="658" x2="658" y1="466" y2="490" stroke="#f06060" stroke-width="2.2"/><circle cx="658" cy="478" r="5.5" fill="none" stroke="#e04040" stroke-width="2"/><line x1="684" x2="684" y1="463" y2="493" stroke="#f06060" stroke-width="2.2"/><circle cx="684" cy="478" r="5.5" fill="none" stroke="#e04040" stroke-width="2"/><line x1="704" x2="704" y1="458" y2="488" stroke="#f06060" stroke-width="2.2"/><circle cx="704" cy="473" r="5.5" fill="none" stroke="#e04040" stroke-width="2"/><line x1="727" x2="727" y1="461" y2="491" stroke="#f06060" stroke-width="2.2"/><circle cx="727" cy="476" r="5.5" fill="none" stroke="#e04040" stroke-width="2"/><line x1="758" x2="758" y1="468" y2="532" stroke="#f06060" stroke-width="2.2"/><circle cx="758" cy="500" r="5.5" fill="none" stroke="#e04040" stroke-width="2"/><line x1="497" x2="497" y1="400" y2="450" stroke="#6060e0" stroke-width="2.2"/><line x1="521" x2="521" y1="429" y2="465" stroke="#6060e0" stroke-width="2.2"/><line x1="520" x2="520" y1="420" y2="444" stroke="#111" stroke-width="2.2"/><circle cx="520" cy="432" r="4.5" fill="#000"/><line x1="540" x2="540" y1="428" y2="452" stroke="#111" stroke-width="2.2"/><circle cx="540" cy="440" r="4.5" fill="#000"/><line x1="557" x2="557" y1="433" y2="457" stroke="#111" stroke-width="2.2"/><circle cx="557" cy="445" r="4.5" fill="#000"/><line x1="572" x2="572" y1="436" y2="460" stroke="#111" stroke-width="2.2"/><circle cx="572" cy="448" r="4.5" fill="#000"/><line x1="590" x2="590" y1="442" y2="462" stroke="#111" stroke-width="2.2"/><circle cx="590" cy="452" r="4.5" fill="#000"/><line x1="605" x2="605" y1="450" y2="470" stroke="#111" stroke-width="2.2"/><circle cx="605" cy="460" r="4.5" fill="#000"/><line x1="617" x2="617" y1="455" y2="475" stroke="#111" stroke-width="2.2"/><circle cx="617" cy="465" r="4.5" fill="#000"/><line x1="783" x2="783" y1="498" y2="522" stroke="#111" stroke-width="2.2"/><circle cx="783" cy="510" r="4.5" fill="#000"/><line x1="826" x2="826" y1="512" y2="532" stroke="#111" stroke-width="2.2"/><circle cx="826" cy="522" r="4.5" fill="#000"/><line x1="865" x2="865" y1="514" y2="534" stroke="#111" stroke-width="2.2"/><circle cx="865" cy="524" r="4.5" fill="#000"/><rect x="500" y="95" width="90" height="27" fill="#f5f200"/><line x1="500" x2="590" y1="108" y2="108" stroke="#222" stroke-width="4"/><text x="612" y="116" font-size="25">CMS R<tspan font-size="16" dy="5">32</tspan><tspan dy="-5"> : α</tspan><tspan font-size="16" dy="5">S</tspan><tspan dy="-5">(M</tspan><tspan font-size="16" dy="5">Z</tspan><tspan dy="-5">) = 0.1148 ± 0.0055</tspan></text><text x="612" y="157" font-size="25">CMS R<tspan font-size="16" dy="5">32</tspan></text><circle cx="547" cy="150" r="4" fill="#000"/><text x="612" y="196" font-size="25">D0 inclusive jets</text><path d="M547,183 L552,193 L542,193 Z" fill="#4040d0"/><text x="612" y="236" font-size="25">D0 angular correlation</text><circle cx="547" cy="228" r="5" fill="none" stroke="#e04040" stroke-width="2"/><text x="612" y="276" font-size="25">H1</text><circle cx="547" cy="268" r="5" fill="none" stroke="#222" stroke-width="2"/><text x="612" y="316" font-size="25">ZEUS</text><path d="M547,302 L553,308 L547,314 L541,308 Z" fill="none" stroke="#d040d0" stroke-width="2"/></g></svg></div><div class="page" style="left:2544px">
<div class="abs pn" style="left:792px;top:39px">4</div>
<div class="abs seci hj" style="left:190px;width:122px;top:205.1px;letter-spacing:0.5px">B.&nbsp;&nbsp;&nbsp;Running of <span style="font-weight:normal"><i>α<sub>s</sub></i></span></div>
<div class="abs eq" style="left:119.5px;top:319.7px;letter-spacing:0.55px"><i>β</i>(<i>α<sub>s</sub></i>) ≡ <i>μ</i><span class="fr"><span>∂<i>α<sub>s</sub></i></span><span>∂<i>μ</i></span></span> = −<span class="fr"><span><i>α</i><span class="ss"><span>2</span><span><i>s</i></span></span></span><span>2<i>π</i></span></span><span class="big">(</span><i>b</i><sub>0</sub> + <span class="fr"><span><i>α<sub>s</sub></i></span><span>4<i>π</i></span></span> <i>b</i><sub>1</sub> + . . .<span class="big">)</span>,</div>
<div class="abs eq" style="left:407px;top:326.1px">(5)</div>
<div class="abs eq" style="left:123.5px;top:402.2px"><i>b</i><sub>0</sub> = 11 − <span class="fr"><span>2</span><span>3</span></span><i>n<sub>f</sub></i> − <span class="fr"><span>4</span><span>3</span></span><i>n<sub>X</sub>T<sub>X</sub></i>,</div>
<div class="abs eq" style="left:407px;top:409.3px">(6)</div>
<div class="abs eq" style="left:123.5px;top:437.9px"><i>b</i><sub>1</sub> = 102 − <span class="fr"><span>38</span><span>3</span></span><i>n<sub>f</sub></i> − 20 <i>n<sub>X</sub>T<sub>X</sub></i> <span class="big">(</span>1 + <span class="fr"><span><i>C<sub>X</sub></i></span><span>5</span></span><span class="big">)</span>,</div>
<div class="abs eq" style="left:407px;top:443.9px">(7)</div>
<div class="abs eq" style="left:114px;top:612px"><i>T</i><sub><b>3</b></sub> = <span class="frs"><span>1</span><span>2</span></span>,</div>
<div class="abs eq" style="left:185px;top:612px"><i>T</i><sub><b>8</b></sub> = 3,</div>
<div class="abs eq" style="left:254px;top:612px"><i>T</i><sub><b>6</b></sub> = <span class="frs"><span>5</span><span>2</span></span>,</div>
<div class="abs eq" style="left:327px;top:612px"><i>T</i><sub><b>10</b></sub> = <span class="frs"><span>15</span><span>2</span></span>,</div>
<div class="abs eq" style="left:114px;top:636px"><i>C</i><sub><b>3</b></sub> = <span class="frs"><span>4</span><span>3</span></span>,</div>
<div class="abs eq" style="left:185px;top:636px"><i>C</i><sub><b>8</b></sub> = 3,</div>
<div class="abs eq" style="left:254px;top:636px"><i>C</i><sub><b>6</b></sub> = <span class="frs"><span>10</span><span>3</span></span>,</div>
<div class="abs eq" style="left:327px;top:636px"><i>C</i><sub><b>10</b></sub> = 6.</div>
<div class="abs eq" style="left:407px;top:624.8px">(8)</div>
<div class="abs eq" style="left:124.5px;top:841px;letter-spacing:0.6px"><i>n</i><sub>eff</sub> = <i>n</i><sub><b>3⊕3̄</b></sub> + 3 <i>n</i><sub><b>8</b></sub> + 5 <i>n</i><sub><b>6⊕6̄</b></sub> + 15 <i>n</i><sub><b>10⊕10̄</b></sub>,</div>
<div class="abs eq" style="left:407px;top:841px">(9)</div>
<div class="col" style="left:77px;width:349px"><div class="b j" style="top:76.5px">these have, to our knowledge, not been studied in 3-jets</div><div class="b j" style="top:92.8px">observables, but they do not modify 2-jets differential</div><div class="b j" style="top:109.2px;letter-spacing:calc(var(--ls) + -0.18px)">cross sections much [30, 31]. In the absence of an explicit</div><div class="b j" style="top:125.5px">NLO computation with massive fermions, our working</div><div class="b j" style="top:141.8px">assumption is that the correspondence between <i>R</i><sub>32</sub> and</div><div class="b" style="top:158.1px"><i>α<sub>s</sub></i>is not significantly affected by those effects.</div><div class="b j" style="top:241.0px;text-indent:14.25px;letter-spacing:calc(var(--ls) + -0.184px)">In the presence of new colored fermions, the running of</div><div class="b j" style="top:257.3px"><i>α<sub>s</sub></i> at high energy is modified compared to the Standard</div><div class="b j" style="top:273.7px;letter-spacing:calc(var(--ls) + -0.169px)">Model, manifested by the introduction of new coefficients</div><div class="b" style="top:290.0px">in the <i>β</i> function. If we denote</div><div class="b j" style="top:361.7px">then the coefficients <i>b</i><sub>0</sub> and <i>b</i><sub>1</sub> in any mass-independent</div><div class="b" style="top:378.0px">renormalisation scheme read</div><div class="b j" style="top:482.3px">where <i>n<sub>f</sub></i> is the number of quark flavours (i.e. <i>n<sub>f</sub></i> = 6 at</div><div class="b j" style="top:498.6px">scales <i>Q</i> &gt; <i>m<sub>t</sub></i>), <i>n<sub>X</sub></i> the number of new (Dirac) fermions,</div><div class="b j" style="top:515.0px">and <i>T<sub>X</sub></i> and <i>C<sub>X</sub></i> group theoretical factors depending in</div><div class="b j" style="top:531.3px;letter-spacing:calc(var(--ls) + -0.108px)">which representation of the color group the new fermions</div><div class="b j" style="top:547.6px">transform. One has respectively for the fundamental (di-</div><div class="b j" style="top:564.0px">mension 3), adjoint (8), two-index symmetric (6) and</div><div class="b" style="top:580.3px">three-index symmetric (10) representations,</div><div class="b j" style="top:667.3px">Higher-dimensional representations have typically larger</div><div class="b j" style="top:683.6px">values of <i>T<sub>X</sub></i> and <i>C<sub>X</sub></i>, but will not be considered fur-</div><div class="b j" style="top:700.0px">ther in this work. The case of fermions in the adjoint</div><div class="b j" style="top:716.3px;letter-spacing:calc(var(--ls) + -0.029px)">representation — like the gluino in the MSSM — is spe-</div><div class="b j" style="top:732.6px">cial, since the representation is real: a Majorana mass</div><div class="b j" style="top:749.0px">term can be written for a single Weyl fermion, and <i>n<sub>X</sub></i></div><div class="b j" style="top:765.3px">can take half-integer values. At leading order, the mod-</div><div class="b j" style="top:781.6px">ification in the running of <i>α<sub>s</sub></i> only depends on a single</div><div class="b j" style="top:797.9px">parameter <i>n</i><sub>eff</sub> ≡ 2<i>n<sub>X</sub>T<sub>X</sub></i>, counting the effective number</div><div class="b" style="top:814.3px">of new fermions. Explicitly, we have</div><div class="b j" style="top:869.3px">where <i>n</i><sub><b>3⊕3̄</b></sub>, <i>n</i><sub><b>6⊕6̄</b></sub> and <i>n</i><sub><b>10⊕10̄</b></sub> are the number of new</div><div class="b j" style="top:885.6px">Dirac fermions in the triplet, sextet and decuplet rep-</div><div class="b j" style="top:902.0px">resentations respectively, and <i>n</i><sub><b>8</b></sub> the number of Weyl</div><div class="b j" style="top:918.3px">fermions in the adjoint representation. Asymptotic free-</div><div class="b j" style="top:934.6px">dom is lost for <i>n</i><sub>eff</sub> &gt; 10.5. We do not restrict ourselves</div><div class="b" style="top:951.0px">to asymptotically free theories.</div><div class="b j" style="top:967.5px;text-indent:14.25px">Furthermore, one Dirac fermion corresponds to four</div><div class="b j" style="top:983.8px;letter-spacing:calc(var(--ls) + -0.117px)">complex scalar degrees of freedom; scalar particles in the</div><div class="b j" style="top:1000.1px">spectrum thus contribute to <i>n</i><sub>eff</sub> four times less than cor-</div><div class="b j" style="top:1016.5px;letter-spacing:calc(var(--ls) + -0.029px)">responding Dirac fermions. For instance, the full content</div></div><div class="col" style="left:451px;width:349px"><div class="f j" style="top:305.8px">FIG. 4. Example of the change in <i>α<sub>s</sub></i> induced by a new fermion</div><div class="f j" style="top:320.6px">of mass 500 GeV in various representations of the color gauge</div><div class="f j" style="top:335.3px">group. The running of <i>α<sub>s</sub></i> is performed at NLO, showing</div><div class="f j" style="top:350.1px">for comparison the running at LO from the mass of the new</div><div class="f" style="top:364.8px">fermion.</div></div><div class="col" style="left:451px;width:349px"><div class="b j" style="top:425.9px">of the Minimal Supersymmetric Standard Model (1 ad-</div><div class="b j" style="top:442.2px;letter-spacing:calc(var(--ls) + -0.025px)">joint Weyl fermion and 12 fundamental complex scalars)</div><div class="b" style="top:458.6px">counts as <i>n</i><sub>eff</sub> = 6.</div><div class="b j" style="top:484.3px;text-indent:14.25px">Beyond leading order, <i>n</i><sub>eff</sub> is not sufficient to</div><div class="b j" style="top:500.6px">parametrise the effect of new physics and the detailed</div><div class="b j" style="top:517.0px">properties of the additional particles enter the computa-</div><div class="b j" style="top:533.3px">tion. Besides the value of the Casimir (8) also contri-</div><div class="b j" style="top:549.6px">butions from other sectors will influence the running of</div><div class="b j" style="top:566.0px"><i>α<sub>s</sub></i> [32]. However these contributions are typically sub-</div><div class="b j" style="top:582.3px">leading and therefore a description in terms of <i>n</i><sub>eff</sub> is a</div><div class="b" style="top:598.6px">useful approximation.</div><div class="b j" style="top:623.1px;text-indent:14.25px">The running of <i>α<sub>s</sub></i> as given by the <i>β</i> function above</div><div class="b j" style="top:639.4px">is only valid at energies larger than the mass of the new</div><div class="b j" style="top:655.8px">colored fermions — for simplicity, we assume that they</div><div class="b j" style="top:672.1px">all have the same mass <i>m<sub>X</sub></i> and that they are heavier</div><div class="b j" style="top:688.4px">than the top quark. Following the standard procedure,</div><div class="b j" style="top:704.8px">we choose to perform the matching of <i>α<sub>s</sub></i> between the</div><div class="b j" style="top:721.1px">high-energy regime and the effective theory without the</div><div class="b j" style="top:737.4px">new fermions exactly at the mass <i>m<sub>X</sub></i>. The choice of the</div><div class="b j" style="top:753.7px">matching scale <i>Q</i> is arbitrary and the condition <i>Q</i> = <i>m<sub>X</sub></i></div><div class="b j" style="top:770.1px">is not in itself a requirement of the theory. However this</div><div class="b j" style="top:786.4px">choice leads to approximate continuity of the running</div><div class="b j" style="top:802.7px">coupling constant and hence a more appealing physical</div><div class="b" style="top:819.1px">picture of <i>α<sub>s</sub></i> (see for example [33]).</div><div class="b j" style="top:844.5px;text-indent:14.25px;letter-spacing:calc(var(--ls) + -0.09px)">The relative importance of the change in <i>α<sub>s</sub></i> induced by</div><div class="b j" style="top:860.8px">fermions in various representation can be assessed from</div><div class="b j" style="top:877.2px;letter-spacing:calc(var(--ls) + -0.177px)">Fig. 4. LHC observables can only be sensitive to scales of</div><div class="b j" style="top:893.5px">a few TeV at most, and since we assume in our analysis</div><div class="b j" style="top:909.8px">that <i>m<sub>X</sub></i> &gt; <i>m<sub>t</sub></i>, the modified running of <i>α<sub>s</sub></i> will not take</div><div class="b j" style="top:926.2px;letter-spacing:calc(var(--ls) + -0.083px)">place over many orders of magnitude. So with the excep-</div><div class="b j" style="top:942.5px">tion of color-decuplet fermions, the modified running of</div><div class="b j" style="top:958.8px"><i>α<sub>s</sub></i> is well estimated by the leading order running, which</div><div class="b j" style="top:975.1px">will allow us to provide model-independent bounds on</div><div class="b" style="top:991.5px">new physics depending on <i>n</i><sub>eff</sub> and <i>m<sub>X</sub></i> only.</div><div class="b j" style="top:1016.2px;text-indent:14.25px">We also derive the following approximate expression,</div></div><svg class="abs" style="left:446px;top:30px" width="380" height="300" viewBox="0 0 922.98 728.67"><g font-family="Liberation Serif" fill="#111"><rect x="133" y="137" width="682" height="421" fill="none" stroke="#999" stroke-width="1.8"/><text x="128" y="146.0" font-size="25.5" text-anchor="end">0.120</text><line x1="133" x2="143" y1="137.0" y2="137.0" stroke="#999" stroke-width="1.6"/><line x1="815" x2="805" y1="137.0" y2="137.0" stroke="#999" stroke-width="1.6"/><line x1="133" x2="138" y1="147.5" y2="147.5" stroke="#aaa" stroke-width="1.3"/><line x1="815" x2="810" y1="147.5" y2="147.5" stroke="#aaa" stroke-width="1.3"/><line x1="133" x2="138" y1="158.0" y2="158.0" stroke="#aaa" stroke-width="1.3"/><line x1="815" x2="810" y1="158.0" y2="158.0" stroke="#aaa" stroke-width="1.3"/><line x1="133" x2="138" y1="168.6" y2="168.6" stroke="#aaa" stroke-width="1.3"/><line x1="815" x2="810" y1="168.6" y2="168.6" stroke="#aaa" stroke-width="1.3"/><line x1="133" x2="138" y1="179.1" y2="179.1" stroke="#aaa" stroke-width="1.3"/><line x1="815" x2="810" y1="179.1" y2="179.1" stroke="#aaa" stroke-width="1.3"/><text x="128" y="198.6" font-size="25.5" text-anchor="end">0.115</text><line x1="133" x2="143" y1="189.6" y2="189.6" stroke="#999" stroke-width="1.6"/><line x1="815" x2="805" y1="189.6" y2="189.6" stroke="#999" stroke-width="1.6"/><line x1="133" x2="138" y1="200.1" y2="200.1" stroke="#aaa" stroke-width="1.3"/><line x1="815" x2="810" y1="200.1" y2="200.1" stroke="#aaa" stroke-width="1.3"/><line x1="133" x2="138" y1="210.6" y2="210.6" stroke="#aaa" stroke-width="1.3"/><line x1="815" x2="810" y1="210.6" y2="210.6" stroke="#aaa" stroke-width="1.3"/><line x1="133" x2="138" y1="221.2" y2="221.2" stroke="#aaa" stroke-width="1.3"/><line x1="815" x2="810" y1="221.2" y2="221.2" stroke="#aaa" stroke-width="1.3"/><line x1="133" x2="138" y1="231.7" y2="231.7" stroke="#aaa" stroke-width="1.3"/><line x1="815" x2="810" y1="231.7" y2="231.7" stroke="#aaa" stroke-width="1.3"/><text x="128" y="251.2" font-size="25.5" text-anchor="end">0.110</text><line x1="133" x2="143" y1="242.2" y2="242.2" stroke="#999" stroke-width="1.6"/><line x1="815" x2="805" y1="242.2" y2="242.2" stroke="#999" stroke-width="1.6"/><line x1="133" x2="138" y1="252.7" y2="252.7" stroke="#aaa" stroke-width="1.3"/><line x1="815" x2="810" y1="252.7" y2="252.7" stroke="#aaa" stroke-width="1.3"/><line x1="133" x2="138" y1="263.2" y2="263.2" stroke="#aaa" stroke-width="1.3"/><line x1="815" x2="810" y1="263.2" y2="263.2" stroke="#aaa" stroke-width="1.3"/><line x1="133" x2="138" y1="273.8" y2="273.8" stroke="#aaa" stroke-width="1.3"/><line x1="815" x2="810" y1="273.8" y2="273.8" stroke="#aaa" stroke-width="1.3"/><line x1="133" x2="138" y1="284.3" y2="284.3" stroke="#aaa" stroke-width="1.3"/><line x1="815" x2="810" y1="284.3" y2="284.3" stroke="#aaa" stroke-width="1.3"/><text x="128" y="303.8" font-size="25.5" text-anchor="end">0.105</text><line x1="133" x2="143" y1="294.8" y2="294.8" stroke="#999" stroke-width="1.6"/><line x1="815" x2="805" y1="294.8" y2="294.8" stroke="#999" stroke-width="1.6"/><line x1="133" x2="138" y1="305.3" y2="305.3" stroke="#aaa" stroke-width="1.3"/><line x1="815" x2="810" y1="305.3" y2="305.3" stroke="#aaa" stroke-width="1.3"/><line x1="133" x2="138" y1="315.8" y2="315.8" stroke="#aaa" stroke-width="1.3"/><line x1="815" x2="810" y1="315.8" y2="315.8" stroke="#aaa" stroke-width="1.3"/><line x1="133" x2="138" y1="326.4" y2="326.4" stroke="#aaa" stroke-width="1.3"/><line x1="815" x2="810" y1="326.4" y2="326.4" stroke="#aaa" stroke-width="1.3"/><line x1="133" x2="138" y1="336.9" y2="336.9" stroke="#aaa" stroke-width="1.3"/><line x1="815" x2="810" y1="336.9" y2="336.9" stroke="#aaa" stroke-width="1.3"/><text x="128" y="356.4" font-size="25.5" text-anchor="end">0.100</text><line x1="133" x2="143" y1="347.4" y2="347.4" stroke="#999" stroke-width="1.6"/><line x1="815" x2="805" y1="347.4" y2="347.4" stroke="#999" stroke-width="1.6"/><line x1="133" x2="138" y1="357.9" y2="357.9" stroke="#aaa" stroke-width="1.3"/><line x1="815" x2="810" y1="357.9" y2="357.9" stroke="#aaa" stroke-width="1.3"/><line x1="133" x2="138" y1="368.4" y2="368.4" stroke="#aaa" stroke-width="1.3"/><line x1="815" x2="810" y1="368.4" y2="368.4" stroke="#aaa" stroke-width="1.3"/><line x1="133" x2="138" y1="379.0" y2="379.0" stroke="#aaa" stroke-width="1.3"/><line x1="815" x2="810" y1="379.0" y2="379.0" stroke="#aaa" stroke-width="1.3"/><line x1="133" x2="138" y1="389.5" y2="389.5" stroke="#aaa" stroke-width="1.3"/><line x1="815" x2="810" y1="389.5" y2="389.5" stroke="#aaa" stroke-width="1.3"/><text x="128" y="409.0" font-size="25.5" text-anchor="end">0.095</text><line x1="133" x2="143" y1="400.0" y2="400.0" stroke="#999" stroke-width="1.6"/><line x1="815" x2="805" y1="400.0" y2="400.0" stroke="#999" stroke-width="1.6"/><line x1="133" x2="138" y1="410.5" y2="410.5" stroke="#aaa" stroke-width="1.3"/><line x1="815" x2="810" y1="410.5" y2="410.5" stroke="#aaa" stroke-width="1.3"/><line x1="133" x2="138" y1="421.0" y2="421.0" stroke="#aaa" stroke-width="1.3"/><line x1="815" x2="810" y1="421.0" y2="421.0" stroke="#aaa" stroke-width="1.3"/><line x1="133" x2="138" y1="431.6" y2="431.6" stroke="#aaa" stroke-width="1.3"/><line x1="815" x2="810" y1="431.6" y2="431.6" stroke="#aaa" stroke-width="1.3"/><line x1="133" x2="138" y1="442.1" y2="442.1" stroke="#aaa" stroke-width="1.3"/><line x1="815" x2="810" y1="442.1" y2="442.1" stroke="#aaa" stroke-width="1.3"/><text x="128" y="461.6" font-size="25.5" text-anchor="end">0.090</text><line x1="133" x2="143" y1="452.6" y2="452.6" stroke="#999" stroke-width="1.6"/><line x1="815" x2="805" y1="452.6" y2="452.6" stroke="#999" stroke-width="1.6"/><line x1="133" x2="138" y1="463.1" y2="463.1" stroke="#aaa" stroke-width="1.3"/><line x1="815" x2="810" y1="463.1" y2="463.1" stroke="#aaa" stroke-width="1.3"/><line x1="133" x2="138" y1="473.6" y2="473.6" stroke="#aaa" stroke-width="1.3"/><line x1="815" x2="810" y1="473.6" y2="473.6" stroke="#aaa" stroke-width="1.3"/><line x1="133" x2="138" y1="484.2" y2="484.2" stroke="#aaa" stroke-width="1.3"/><line x1="815" x2="810" y1="484.2" y2="484.2" stroke="#aaa" stroke-width="1.3"/><line x1="133" x2="138" y1="494.7" y2="494.7" stroke="#aaa" stroke-width="1.3"/><line x1="815" x2="810" y1="494.7" y2="494.7" stroke="#aaa" stroke-width="1.3"/><text x="128" y="514.2" font-size="25.5" text-anchor="end">0.085</text><line x1="133" x2="143" y1="505.2" y2="505.2" stroke="#999" stroke-width="1.6"/><line x1="815" x2="805" y1="505.2" y2="505.2" stroke="#999" stroke-width="1.6"/><line x1="133" x2="138" y1="515.7" y2="515.7" stroke="#aaa" stroke-width="1.3"/><line x1="815" x2="810" y1="515.7" y2="515.7" stroke="#aaa" stroke-width="1.3"/><line x1="133" x2="138" y1="526.2" y2="526.2" stroke="#aaa" stroke-width="1.3"/><line x1="815" x2="810" y1="526.2" y2="526.2" stroke="#aaa" stroke-width="1.3"/><line x1="133" x2="138" y1="536.8" y2="536.8" stroke="#aaa" stroke-width="1.3"/><line x1="815" x2="810" y1="536.8" y2="536.8" stroke="#aaa" stroke-width="1.3"/><line x1="133" x2="138" y1="547.3" y2="547.3" stroke="#aaa" stroke-width="1.3"/><line x1="815" x2="810" y1="547.3" y2="547.3" stroke="#aaa" stroke-width="1.3"/><text x="128" y="566.8" font-size="25.5" text-anchor="end">0.080</text><line x1="133" x2="143" y1="557.8" y2="557.8" stroke="#999" stroke-width="1.6"/><line x1="815" x2="805" y1="557.8" y2="557.8" stroke="#999" stroke-width="1.6"/><text x="133.0" y="586" font-size="25" text-anchor="middle">200</text><line x1="133.0" x2="133.0" y1="558" y2="548" stroke="#999" stroke-width="1.6"/><line x1="133.0" x2="133.0" y1="137" y2="147" stroke="#999" stroke-width="1.6"/><text x="235.1" y="586" font-size="25" text-anchor="middle">300</text><line x1="235.1" x2="235.1" y1="558" y2="548" stroke="#999" stroke-width="1.6"/><line x1="235.1" x2="235.1" y1="137" y2="147" stroke="#999" stroke-width="1.6"/><text x="363.8" y="586" font-size="25" text-anchor="middle">500</text><line x1="363.8" x2="363.8" y1="558" y2="548" stroke="#999" stroke-width="1.6"/><line x1="363.8" x2="363.8" y1="137" y2="147" stroke="#999" stroke-width="1.6"/><text x="448.6" y="586" font-size="25" text-anchor="middle">700</text><line x1="448.6" x2="448.6" y1="558" y2="548" stroke="#999" stroke-width="1.6"/><line x1="448.6" x2="448.6" y1="137" y2="147" stroke="#999" stroke-width="1.6"/><text x="538.4" y="586" font-size="25" text-anchor="middle">1000</text><line x1="538.4" x2="538.4" y1="558" y2="548" stroke="#999" stroke-width="1.6"/><line x1="538.4" x2="538.4" y1="137" y2="147" stroke="#999" stroke-width="1.6"/><text x="640.5" y="586" font-size="25" text-anchor="middle">1500</text><line x1="640.5" x2="640.5" y1="558" y2="548" stroke="#999" stroke-width="1.6"/><line x1="640.5" x2="640.5" y1="137" y2="147" stroke="#999" stroke-width="1.6"/><text x="713.0" y="586" font-size="25" text-anchor="middle">2000</text><line x1="713.0" x2="713.0" y1="558" y2="548" stroke="#999" stroke-width="1.6"/><line x1="713.0" x2="713.0" y1="137" y2="147" stroke="#999" stroke-width="1.6"/><text x="815.1" y="586" font-size="25" text-anchor="middle">3000</text><line x1="815.1" x2="815.1" y1="558" y2="548" stroke="#999" stroke-width="1.6"/><line x1="815.1" x2="815.1" y1="137" y2="147" stroke="#999" stroke-width="1.6"/><line x1="189.2" x2="189.2" y1="558" y2="553" stroke="#aaa" stroke-width="1.3"/><line x1="307.6" x2="307.6" y1="558" y2="553" stroke="#aaa" stroke-width="1.3"/><line x1="409.7" x2="409.7" y1="558" y2="553" stroke="#aaa" stroke-width="1.3"/><line x1="482.2" x2="482.2" y1="558" y2="553" stroke="#aaa" stroke-width="1.3"/><line x1="511.9" x2="511.9" y1="558" y2="553" stroke="#aaa" stroke-width="1.3"/><line x1="584.3" x2="584.3" y1="558" y2="553" stroke="#aaa" stroke-width="1.3"/><line x1="672.1" x2="672.1" y1="558" y2="553" stroke="#aaa" stroke-width="1.3"/><line x1="769.2" x2="769.2" y1="558" y2="553" stroke="#aaa" stroke-width="1.3"/><path d="M133,285 L363,397" fill="none" stroke="#666" stroke-width="1.8"/><path d="M363,397 Q589.0,473.5 815,558" fill="none" stroke="#555" stroke-width="2.2"/><path d="M363,397 Q589.0,475.0 815,561" fill="none" stroke="#888" stroke-width="2.2" stroke-dasharray="9,6"/><path d="M363,397 Q589.0,467.0 815,545" fill="none" stroke="#6a6ae0" stroke-width="2.2"/><path d="M363,397 Q589.0,464.5 815,540" fill="none" stroke="#6a6ae0" stroke-width="2.2" stroke-dasharray="9,6"/><path d="M363,397 Q589.0,454.0 815,515" fill="none" stroke="#b070c8" stroke-width="2.2"/><path d="M363,397 Q589.0,452.5 815,512" fill="none" stroke="#b070c8" stroke-width="2.2" stroke-dasharray="9,6"/><path d="M363,397 Q589.0,440.0 815,487" fill="none" stroke="#80d080" stroke-width="2.2"/><path d="M363,397 Q589.0,432.5 815,476" fill="none" stroke="#80d080" stroke-width="2.2" stroke-dasharray="9,6"/><path d="M363,397 Q589.0,356.5 815,308" fill="none" stroke="#f08080" stroke-width="2.2"/><path d="M363,397 Q589.0,318.5 815,220" fill="none" stroke="#f08080" stroke-width="2.2" stroke-dasharray="9,6"/><line x1="655" x2="700" y1="175" y2="175" stroke="#666" stroke-width="1.8"/><line x1="655" x2="700" y1="205" y2="205" stroke="#666" stroke-width="1.8" stroke-dasharray="7,5"/><text x="715" y="184" font-size="26">LO</text><text x="715" y="214" font-size="26">NLO</text><line x1="145" x2="190" y1="413" y2="413" stroke="#666" stroke-width="1.8"/><text x="205" y="422" font-size="26">SM</text><line x1="145" x2="190" y1="443" y2="443" stroke="#6a6ae0" stroke-width="1.8"/><text x="205" y="452" font-size="26">SM + color triplet</text><line x1="145" x2="190" y1="473" y2="473" stroke="#b070c8" stroke-width="1.8"/><text x="205" y="482" font-size="26">SM + color octet</text><line x1="145" x2="190" y1="503" y2="503" stroke="#80d080" stroke-width="1.8"/><text x="205" y="512" font-size="26">SM + color sextet</text><line x1="145" x2="190" y1="533" y2="533" stroke="#f08080" stroke-width="1.8"/><text x="205" y="542" font-size="26">SM + color decuplet</text><text x="475" y="619" font-size="27" text-anchor="middle">Q  [GeV]</text><text transform="translate(56,345) rotate(-90)" font-size="30" text-anchor="middle" font-style="italic">α<tspan font-size="20" dy="5">s</tspan></text></g></svg></div><div class="page" style="left:3392px">
<div class="abs pn" style="left:792px;top:39px">5</div>
<div class="abs b" style="left:96.8px;top:608.7px">1.</div>
<div class="abs b" style="left:470.8px;top:76.5px">2.</div>
<div class="abs b" style="left:470.8px;top:689.7px">3.</div>
<div class="abs seci hj" style="left:140.2px;width:222.2px;top:221px;letter-spacing:0.5px">C.&nbsp;&nbsp;&nbsp;Parton distribution functions</div>
<div class="abs" style="left:77px;top:946px;width:50px;border-top:0.8px solid #333"></div>
<div class="abs eq" style="left:126.5px;top:98.2px"><span class="fr"><span><i>α<sub>s</sub></i>(<i>Q</i>)</span><span><i>α</i><span class="ss"><span><i>SM</i></span><span>s</span></span>(<i>Q</i>)</span></span> ≈ 1 + <span class="fr"><span><i>n</i><sub>eff</sub></span><span>3<i>π</i></span></span><i>α<sub>s</sub></i>(<i>m<sub>X</sub></i>) log <span class="big">(</span><span class="fr"><span><i>Q</i></span><span><i>m<sub>X</sub></i></span></span><span class="big">)</span>,</div>
<div class="abs eq" style="left:299px;top:134.7px">for <i>Q</i> ≥ <i>m<sub>X</sub></i>,</div>
<div class="abs eq" style="left:402px;top:134.7px">(10)</div>
<div class="abs eq" style="left:501px;top:321px"><i>Q</i><sup>2</sup><span class="fr"><span>∂</span><span>∂<i>Q</i><sup>2</sup></span></span> <span class="big">(</span><span class="fr"><span><i>f<sub>g</sub></i>(<i>x, Q</i>)</span><span><i>f</i><span class="ss"><span><i>SM</i></span><span><i>g</i></span></span>(<i>x, Q</i>)</span></span><span class="big">)</span></div>
<div class="abs eq" style="left:587px;top:362.4px">≈ −<span class="fr"><span><i>n</i><sub>eff</sub></span><span>6<i>π</i></span></span><i>α<sub>s</sub></i>(<i>Q</i>)<span class="fr"><span><i>f<sub>g</sub></i>(<i>x, Q</i>)</span><span><i>f</i><span class="ss"><span><i>SM</i></span><span><i>g</i></span></span>(<i>x, Q</i>)</span></span>,</div>
<div class="abs eq" style="left:775px;top:371.2px">(11)</div>
<div class="abs eq" style="left:494.5px;top:447.1px"><span class="fr"><span><i>f<sub>g</sub></i>(<i>x, Q</i>)</span><span><i>f</i><span class="ss"><span><i>SM</i></span><span><i>g</i></span></span>(<i>x, Q</i>)</span></span> ≈ 1 − <span class="fr"><span><i>n</i><sub>eff</sub></span><span>3<i>π</i></span></span><i>α<sub>s</sub></i>(<i>m<sub>X</sub></i>) log <span class="big">(</span><span class="fr"><span><i>Q</i></span><span><i>m<sub>X</sub></i></span></span><span class="big">)</span>.</div>
<div class="abs eq" style="left:775px;top:454.2px">(12)</div>
<div class="col" style="left:77px;width:349px"><div class="b" style="top:76.5px">which will be useful later in our discussion:</div><div class="b j" style="top:159.3px">where <i>α</i><span class="ss"><span><i>SM</i></span><span>s</span></span>(<i>Q</i>) is the Standard Model value of the run-</div><div class="b" style="top:175.6px">ning coupling.</div><div class="b j" style="top:258.5px;text-indent:14.25px">New colored fermions also affect the parton distribu-</div><div class="b j" style="top:274.8px">tion functions (PDFs), besides the QCD processes at the</div><div class="b j" style="top:291.2px;letter-spacing:calc(var(--ls) + -0.016px)">level of the parton interactions and through the modified</div><div class="b j" style="top:307.5px">running of <i>α<sub>s</sub></i>. On one hand, their presence modifies the</div><div class="b j" style="top:323.8px">evolution of the PDFs of the quarks and gluons. On the</div><div class="b j" style="top:340.1px">other hand, they contribute as new partons to the mo-</div><div class="b j" style="top:356.5px">mentum of the colliding protons. We will show here that</div><div class="b j" style="top:372.8px">in the case of <i>R</i><sub>32</sub>, the modifications of PDFs can actu-</div><div class="b j" style="top:389.1px">ally be neglected. In order to assess the importance of</div><div class="b j" style="top:405.5px;letter-spacing:calc(var(--ls) + -0.23px)">new physics effects, we make use of a modified version of</div><div class="b j" style="top:421.8px">H<span class="scs">OPPET</span> [34] to study the evolution of the PDFs above</div><div class="b j" style="top:438.1px">the scale of new physics. For simplicity, the evolution</div><div class="b j" style="top:454.5px">is performed using the DGLAP equations at leading or-</div><div class="b j" style="top:470.8px">der only and then compared to the PDFs in the Standard</div><div class="b j" style="top:487.1px;letter-spacing:calc(var(--ls) + -0.058px)">Model evaluated at the same order. This gives a good es-</div><div class="b j" style="top:503.4px;letter-spacing:calc(var(--ls) + -0.087px)">timate of the modifications induced by the new fermions.</div><div class="b j" style="top:519.8px">The explicit procedure followed is to initialise the PDFs</div><div class="b j" style="top:536.1px">at the scale <i>Q</i> = <i>m<sub>t</sub></i> with the CTEQ distribution [28],</div><div class="b j" style="top:552.4px">then use the DGLAP equations (A2) of Appendix A to</div><div class="b j" style="top:568.8px">perform the evolution above this energy.<sup>3</sup> The results</div><div class="b" style="top:585.1px">can be summarised in three points:</div></div><div class="col" style="left:112.8px;width:313.2px"><div class="b j" style="top:608.7px">The evolution of the PDF of the new fermions</div><div class="b j" style="top:625.0px">above the mass threshold is driven by the gluon</div><div class="b j" style="top:641.4px">PDF, and it is therefore proportional to the split-</div><div class="b j" style="top:657.7px">ting function <i>P</i><sub><i>X<sub>g</sub></i></sub> ∝ <i>T<sub>X</sub></i>. Fermions in low-</div><div class="b j" style="top:674.0px">dimensional representations will therefore have a</div><div class="b j" style="top:690.4px">small PDF, at most comparable to that of the top</div><div class="b j" style="top:706.7px">quark. Fermions in a higher-dimensional represen-</div><div class="b j" style="top:723.0px;letter-spacing:calc(var(--ls) + -0.084px)">tation of the color group will have PDFs increasing</div><div class="b j" style="top:739.3px;letter-spacing:calc(var(--ls) + -0.059px)">faster with energy, yet they remain small compared</div><div class="b j" style="top:755.7px">to the valence quarks and gluon PDFs over a large</div><div class="b j" style="top:772.0px;letter-spacing:calc(var(--ls) + -0.035px)">range of energies. As an example, Fig. 5 shows the</div><div class="b j" style="top:788.3px">PDFs of a new fermion of mass <i>m<sub>X</sub></i> = 500 GeV</div><div class="b j" style="top:804.7px">in the octet (left panel) and decuplet (right panel)</div><div class="b j" style="top:821.0px">representations, at factorisation scale <i>Q</i> = 1.5 TeV.</div><div class="b j" style="top:837.3px">Although the PDF of the new fermion becomes as</div><div class="b j" style="top:853.7px">important as that of the light quarks, it is still one</div><div class="b j" style="top:870.0px;letter-spacing:calc(var(--ls) + -0.181px)">or two order of magnitude below the relevant PDFs,</div><div class="b j" style="top:886.3px">i.e. the valence quarks and/or the gluon ones de-</div><div class="b j" style="top:902.6px">pending on which kinematic region is considered.</div></div><div class="col" style="left:89px;width:337px"><div class="fn j" style="top:972.8px;letter-spacing:calc(var(--ls) + -0.274px)"><span class="fm">3</span>In principle we could use the SM PDFs up to the mass <i>m<sub>X</sub></i> of the</div><div class="fn j" style="top:986.2px">new fermions. However, the CTEQ PDF set (like most others</div><div class="fn j" style="top:999.6px;letter-spacing:calc(var(--ls) + -0.046px)">sets) does not make use of the 6 flavours running scheme above</div><div class="fn" style="top:1013.0px">the top mass.</div></div><div class="col" style="left:487.6px;width:312.4px"><div class="b j" style="top:76.5px;letter-spacing:calc(var(--ls) + -0.221px)">The evolution of the gluon PDF is also largely dom-</div><div class="b j" style="top:92.8px;letter-spacing:calc(var(--ls) + -0.039px)">inated by the gluon PDF itself. New physics enters</div><div class="b j" style="top:109.2px">therefore the DGLAP equations in two ways: in</div><div class="b j" style="top:125.5px;letter-spacing:calc(var(--ls) + -0.062px)">the value of <i>α<sub>s</sub></i> above the mass threshold and in the</div><div class="b j" style="top:141.8px">splitting function of the gluon into itself, eq. (A3).</div><div class="b j" style="top:158.1px;letter-spacing:calc(var(--ls) + -0.133px)">The former effect is actually subleading in <i>α<sub>s</sub></i>, since</div><div class="b j" style="top:174.5px">the ratio <i>α<sub>s</sub></i>(<i>Q</i>)/<i>α</i><span class="ss"><span><i>SM</i></span><span>s</span></span>(<i>Q</i>) − 1 is itself proportional</div><div class="b j" style="top:190.8px">to <i>α<sub>s</sub></i>, see eq. (10). The modified splitting function</div><div class="b j" style="top:207.1px">of the gluon, on the contrary, gives an important</div><div class="b j" style="top:223.5px">contribution to the evolution of the gluon PDF. It</div><div class="b j" style="top:239.8px">can be quantified by looking at the evolution of</div><div class="b j" style="top:256.1px">the ratio of the gluon PDF in the presence of new</div><div class="b j" style="top:272.5px">fermions to its counterpart in the Standard Model.</div><div class="b" style="top:288.8px">One finds, at leading order in <i>α<sub>s</sub></i>,</div><div class="b" style="top:414.5px">which can be integrated to give</div><div class="b j" style="top:498.7px">The main effect of the presence of new fermions</div><div class="b j" style="top:515.0px">is therefore the reduction of the gluon PDF by a</div><div class="b j" style="top:531.4px">factor proportional to <i>n</i><sub>eff</sub> but independent of <i>x</i>.</div><div class="b j" style="top:547.7px">This behaviour is confirmed by the explicit evolu-</div><div class="b j" style="top:564.0px">tion obtained with H<span class="scs">OPPET</span>. The left-hand side</div><div class="b j" style="top:580.4px">of Fig. 6 shows the leading order evolution ob-</div><div class="b j" style="top:596.7px;letter-spacing:calc(var(--ls) + -0.073px)">tained for three different cases all corresponding to</div><div class="b j" style="top:613.0px"><i>n</i><sub>eff</sub> = 15, where all gluon PDFs are normalised to</div><div class="b j" style="top:629.3px">the Standard Model. Eq. (12) gives in this case</div><div class="b j" style="top:645.7px"><i>f<sub>g</sub></i>(<i>x, Q</i>) ≈ 0.83 <i>f</i><span class="ss"><span><i>SM</i></span><span><i>g</i></span></span>(<i>x, Q</i>), which is indeed the be-</div><div class="b" style="top:662.0px">haviour observed.</div><div class="b j" style="top:689.7px;letter-spacing:calc(var(--ls) + -0.209px)">The evolution of the quark PDF is less affected than</div><div class="b j" style="top:706.0px;letter-spacing:calc(var(--ls) + -0.032px)">the gluon PDF, for the simple reason that the split-</div><div class="b j" style="top:722.4px">ting functions of the quark PDFs do not depend</div><div class="b j" style="top:738.7px">on the presence of new fermions. Moreover, it is</div><div class="b j" style="top:755.0px">indirectly feeling their presence through the mod-</div><div class="b j" style="top:771.4px">ification of <i>α<sub>s</sub></i> and of the gluon PDF, but the two</div><div class="b j" style="top:787.7px">corrections eqs. (10) and (12) are equal and in op-</div><div class="b j" style="top:804.0px">posite direction, so that they conspire and make</div><div class="b j" style="top:820.3px">the quark PDF mostly insensitive to new physics.</div><div class="b j" style="top:836.7px">Notice however that at large <i>x</i> the PDF of the va-</div><div class="b j" style="top:853.0px;letter-spacing:calc(var(--ls) + -0.097px)">lence quarks are important as well in the evolution,</div><div class="b j" style="top:869.3px">and for them the enhancement in <i>α<sub>s</sub></i> is not com-</div><div class="b j" style="top:885.7px">pensated, hence effectively accelerating the evolu-</div><div class="b j" style="top:902.0px">tion, in this case reducing the quark PDFs at large</div><div class="b j" style="top:918.3px"><i>x</i>. This is very well visible in the right-hand side</div><div class="b j" style="top:934.7px">of Fig. 6, where we show the normalised PDFs of</div><div class="b j" style="top:951.0px">the up quark for three scenarios corresponding to</div><div class="b j" style="top:967.3px"><i>n</i><sub>eff</sub> = 15. It should be noted in this case that the</div><div class="b j" style="top:983.6px;letter-spacing:calc(var(--ls) + -0.141px)">leading order evolution of the PDFs does not match</div><div class="b j" style="top:1000.0px;letter-spacing:calc(var(--ls) + -0.039px)">very well the standard sets using the NNLO evolu-</div><div class="b j" style="top:1016.3px">tion equations; however, our point here is simply</div></div></div>
</body></html>
